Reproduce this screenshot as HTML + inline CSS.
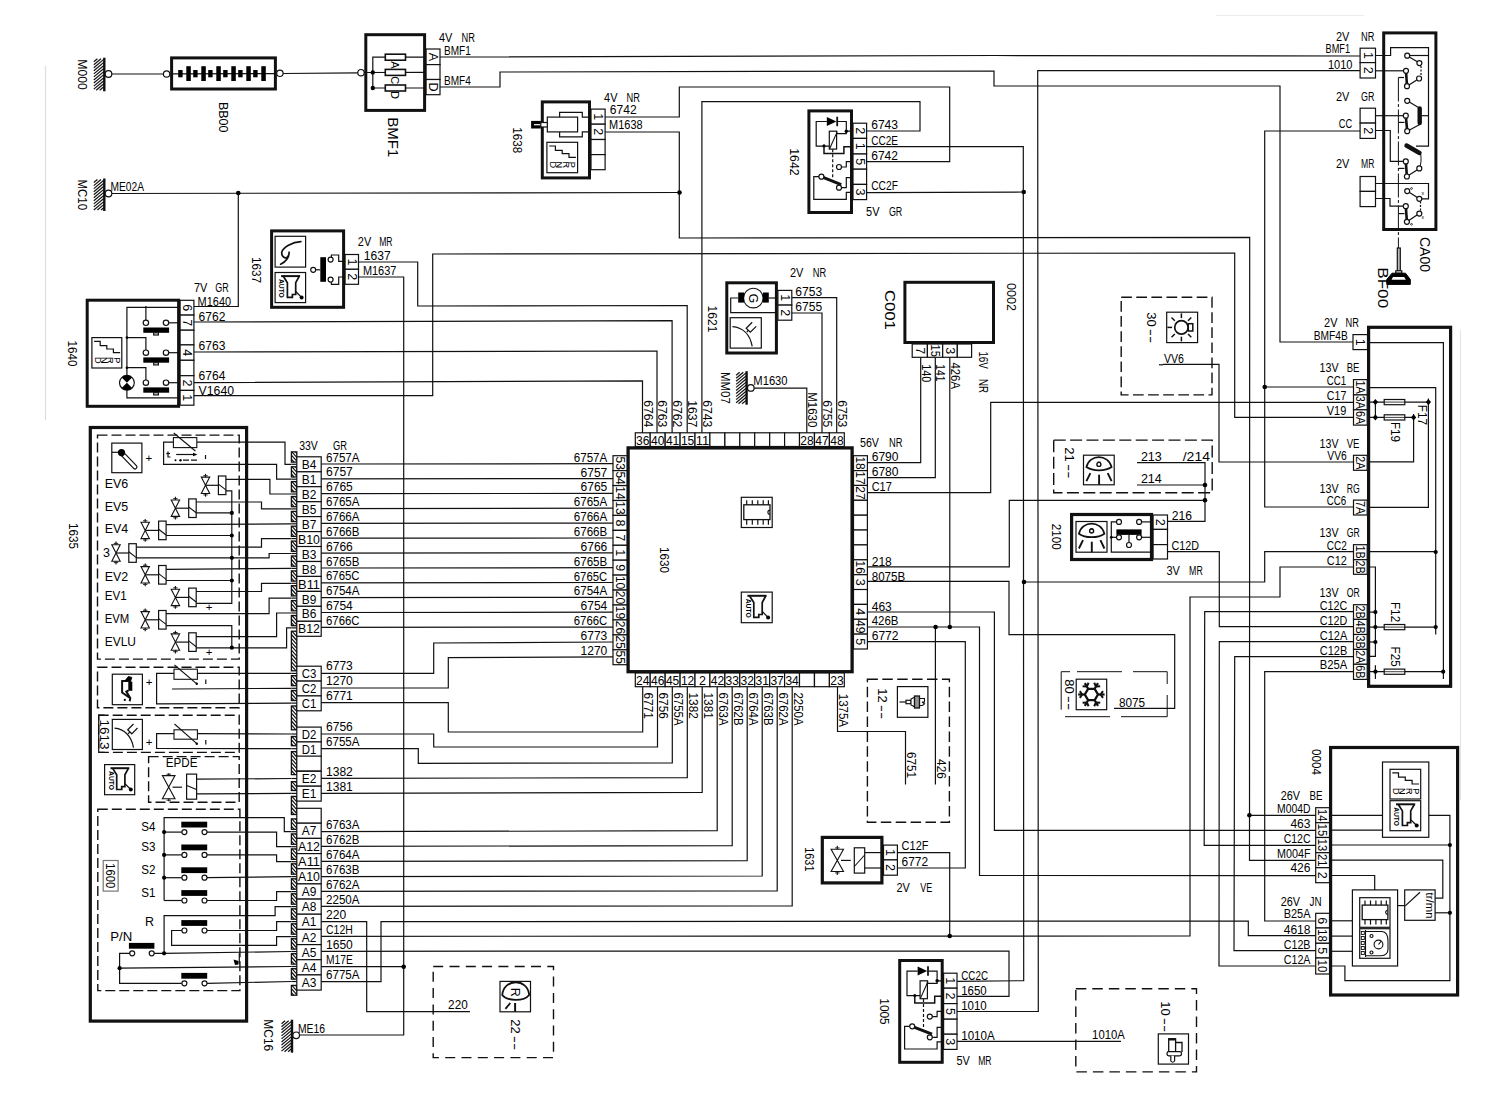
<!DOCTYPE html>
<html><head><meta charset="utf-8"><title>Wiring diagram</title>
<style>
html,body{margin:0;padding:0;background:#fff}
body{width:1494px;height:1110px;overflow:hidden}
svg{display:block}
svg text{font-family:"Liberation Sans",sans-serif;font-size:12.5px;fill:#000;stroke:none}
</style></head><body>
<svg width="1494" height="1110" viewBox="0 0 1494 1110" fill="none" stroke="#111" stroke-linecap="butt" stroke-linejoin="miter">
<path d="M45.5 66 L45.5 420" stroke-width="1.2" stroke="#ddd"/>
<path d="M1460.5 330 L1460.5 800" stroke-width="1.2" stroke="#e4e4e4"/>
<path d="M1216 15.5 L1364 15.5" stroke-width="1.2" stroke="#ececec"/>
<path d="M112 74 L164 74" stroke-width="1.2"/>
<path d="M283 73.5 L358 72.8" stroke-width="1.2"/>
<path d="M439 57 L996 55.5 L1360 56" stroke-width="1.2"/>
<path d="M439 87 L500 87 L500 72 L994 71 L994 86 L1280 86 L1280 342 L1353 342" stroke-width="1.2"/>
<path d="M1360 70.7 L1037.7 70.7 L1038.3 1011.5 L957 1011.5" stroke-width="1.2"/>
<path d="M605 117 L679.3 117 L679.3 87 L949.7 87 L949.7 161.7 L867 161.7" stroke-width="1.2"/>
<path d="M605 132 L679.3 132 L679.3 238 L1249.7 237.3 L1249.5 860.3 L1315.7 860.3" stroke-width="1.2"/>
<path d="M1249.3 815.3 L1315.7 815.3" stroke-width="1.2"/>
<path d="M112 193.5 L679.7 192.5" stroke-width="1.2"/>
<path d="M238.3 193 L238.3 306.5 L194 306.5" stroke-width="1.2"/>
<path d="M867 131 L920 131 L920 101.7 L701.9 101.7 L701.9 434" stroke-width="1.2"/>
<path d="M867 146.7 L1023.3 146.7 L1023.7 980.7 L957 981.3" stroke-width="1.2"/>
<path d="M867 192.7 L1023.7 192" stroke-width="1.2"/>
<path d="M1360 131 L1264.7 131 L1264.7 507 L1353 507" stroke-width="1.2"/>
<path d="M1264.7 387 L1353 387" stroke-width="1.2"/>
<path d="M194 395.7 L432.7 395.7 L432.7 254 L1234.7 253 L1234.7 417.3 L1353 417.3" stroke-width="1.2"/>
<path d="M359 262 L417.7 262 L417.7 306 L687.2 305.5 L687.2 434" stroke-width="1.2"/>
<path d="M359 277 L403.7 277 L403.7 1035 L299 1035" stroke-width="1.2"/>
<path d="M194 322 L672.1 320.6 L672.1 434" stroke-width="1.2"/>
<path d="M194 352 L657 351 L657 434" stroke-width="1.2"/>
<path d="M194 382.7 L642.5 380.8 L642.5 434" stroke-width="1.2"/>
<path d="M753.8 388.2 L806.8 388.2 L806.8 434" stroke-width="1.2"/>
<path d="M791.5 313 L822 313 L822 434" stroke-width="1.2"/>
<path d="M791.5 297.7 L836.7 297.7 L836.7 434" stroke-width="1.2"/>
<path d="M920.7 357 L920.7 462.7 L867 462.7" stroke-width="1.2"/>
<path d="M935.3 357 L935.3 477.7 L867 477.7" stroke-width="1.2"/>
<path d="M949.8 357 L949.8 627" stroke-width="1.2"/>
<path d="M867 492.7 L990.7 492.7 L990.7 402.3 L1353 402.3" stroke-width="1.2"/>
<path d="M867 566.8 L1009.3 566.8 L1009.3 500.3 L1205 500.3" stroke-width="1.2"/>
<path d="M867 581.4 L1009 581.4 L1009 634.7 L1174.7 634.7 L1174.7 708.3 L1114 708.3" stroke-width="1.2"/>
<path d="M1353 551.7 L1264.7 551.7 L1264.7 582 L1024 582" stroke-width="1.2"/>
<path d="M867 612 L994.4 612 L994.4 830.3 L1315.7 830.3" stroke-width="1.2"/>
<path d="M867 627 L979.5 627 L979.5 875.5 L1315.7 875.7" stroke-width="1.2"/>
<path d="M935.4 627 L935.4 784.4" stroke-width="1.2"/>
<path d="M867 641.7 L965.3 641.7 L965.3 868 L897 868" stroke-width="1.2"/>
<path d="M321 464 L613 463.7" stroke-width="1.2"/>
<path d="M321 478.9 L613 478.6" stroke-width="1.2"/>
<path d="M321 493.7 L613 493.4" stroke-width="1.2"/>
<path d="M321 508.6 L613 508.2" stroke-width="1.2"/>
<path d="M321 523.4 L613 523.1" stroke-width="1.2"/>
<path d="M321 538.2 L613 538" stroke-width="1.2"/>
<path d="M321 553.1 L613 552.8" stroke-width="1.2"/>
<path d="M321 568 L613 567.7" stroke-width="1.2"/>
<path d="M321 582.8 L613 582.5" stroke-width="1.2"/>
<path d="M321 597.6 L613 597.4" stroke-width="1.2"/>
<path d="M321 612.5 L613 612.2" stroke-width="1.2"/>
<path d="M321 627.4 L613 627.1" stroke-width="1.2"/>
<path d="M321 673.3 L433.7 673.3 L433.7 643 L613 642" stroke-width="1.2"/>
<path d="M321 688 L448.3 688 L448.3 657.7 L613 656.8" stroke-width="1.2"/>
<path d="M321 702.7 L448.3 702.7 L448.3 732 L642.7 732 L642.7 687" stroke-width="1.2"/>
<path d="M321 734 L433.7 734 L433.7 747 L657.5 747 L657.5 687" stroke-width="1.2"/>
<path d="M321 748.7 L418.3 748.7 L418.3 763.3 L672.3 763 L672.3 687" stroke-width="1.2"/>
<path d="M321 778.3 L687.3 777.7 L687.3 687" stroke-width="1.2"/>
<path d="M321 793.3 L702.2 792.3 L702.2 687" stroke-width="1.2"/>
<path d="M321 831.7 L717.2 830.7 L717.2 687" stroke-width="1.2"/>
<path d="M321 846.3 L732.2 845.7 L732.2 687" stroke-width="1.2"/>
<path d="M321 861.3 L747.2 860.7 L747.2 687" stroke-width="1.2"/>
<path d="M321 876.7 L762.2 876 L762.2 687" stroke-width="1.2"/>
<path d="M321 891.3 L777.2 891 L777.2 687" stroke-width="1.2"/>
<path d="M321 906.3 L792.2 906 L792.2 687" stroke-width="1.2"/>
<path d="M321 921.7 L366.7 921.7 L366.7 1011.7 L470 1011.7" stroke-width="1.2"/>
<path d="M321 936.3 L1190 936 L1190 597 L1280 597 L1280 567 L1353 567" stroke-width="1.2"/>
<path d="M321 951.3 L1009 951 L1009 996.3 L957 996.3" stroke-width="1.2"/>
<path d="M321 966.7 L403.7 966.7" stroke-width="1.2"/>
<path d="M321 981.7 L381 981.7 L381 921.7 L1248.3 921 L1248.3 935.7 L1315.7 935.7" stroke-width="1.2"/>
<path d="M837.5 687 L837.5 731.5 L905.5 731.5 L905.5 784.4" stroke-width="1.2"/>
<path d="M897 852.7 L949.7 852.7 L949.7 936" stroke-width="1.2"/>
<path d="M1353 611.7 L1204.7 611.7 L1204.2 845.3 L1315.7 845.3" stroke-width="1.2"/>
<path d="M1353 626.7 L1219.3 626.7 L1219.3 551.7 L1167 551.7" stroke-width="1.2"/>
<path d="M1353 641.7 L1219.3 641.7 L1219 966 L1315.7 966" stroke-width="1.2"/>
<path d="M1353 656.7 L1234.7 656.7 L1234 950.7 L1315.7 950.7" stroke-width="1.2"/>
<path d="M1353 671.7 L1264.7 671.7 L1264.7 921 L1315.7 921" stroke-width="1.2"/>
<path d="M1163 364.3 L1219 364.3 L1219 462 L1353 462" stroke-width="1.2"/>
<path d="M1137 462.7 L1205 462.7 L1205 521.3 L1167 521.3" stroke-width="1.2"/>
<path d="M1137 485 L1205 485" stroke-width="1.2"/>
<path d="M957 1041.3 L1121 1041.3" stroke-width="1.2"/>
<circle cx="238.3" cy="193" r="2.3" fill="#000" stroke="none"/>
<circle cx="679.5" cy="192.5" r="2.3" fill="#000" stroke="none"/>
<circle cx="1023.7" cy="192" r="2.3" fill="#000" stroke="none"/>
<circle cx="1264.7" cy="387" r="2.3" fill="#000" stroke="none"/>
<circle cx="935.6" cy="627" r="2.3" fill="#000" stroke="none"/>
<circle cx="949.8" cy="627" r="2.3" fill="#000" stroke="none"/>
<circle cx="1024" cy="582" r="2.3" fill="#000" stroke="none"/>
<circle cx="1205" cy="485" r="2.3" fill="#000" stroke="none"/>
<circle cx="1205" cy="500.3" r="2.3" fill="#000" stroke="none"/>
<circle cx="403.7" cy="966.7" r="2.3" fill="#000" stroke="none"/>
<circle cx="949.7" cy="936" r="2.3" fill="#000" stroke="none"/>
<circle cx="1249.4" cy="815.3" r="2.3" fill="#000" stroke="none"/>
<path d="M104.3 57.7 L104.3 91.3" stroke-width="2.4"/>
<path d="M93.8 61.7 L97.4 58.7" stroke-width="1.2"/>
<path d="M93.8 64.8 L101 58.7" stroke-width="1.2"/>
<path d="M93.8 67.8 L103.8 59.4" stroke-width="1.2"/>
<path d="M93.8 70.8 L103.8 62.4" stroke-width="1.2"/>
<path d="M93.8 73.9 L103.8 65.5" stroke-width="1.2"/>
<path d="M93.8 76.9 L103.8 68.5" stroke-width="1.2"/>
<path d="M93.8 80 L103.8 71.6" stroke-width="1.2"/>
<path d="M93.8 83 L103.8 74.6" stroke-width="1.2"/>
<path d="M93.8 86.1 L103.8 77.7" stroke-width="1.2"/>
<path d="M93.8 89.1 L103.8 80.7" stroke-width="1.2"/>
<path d="M96.1 90.3 L103.8 83.8" stroke-width="1.2"/>
<path d="M99.7 90.3 L103.8 86.8" stroke-width="1.2"/>
<circle cx="108.5" cy="74" r="3.3" fill="#fff" stroke-width="1.2"/>
<text transform="translate(77.6 59.2) rotate(90)" style="font-size:13.5px" textLength="30.6" lengthAdjust="spacingAndGlyphs">M000</text>
<circle cx="166.6" cy="74" r="3.2" fill="#fff" stroke-width="1.2"/>
<rect x="171.6" y="57.9" width="103.8" height="31.1" stroke-width="3" fill="#fff"/>
<path d="M173 73.8 L274 73.6" stroke-width="1.2"/>
<rect x="178.2" y="70" width="4.4" height="7.3" stroke-width="0" fill="#000"/>
<rect x="186.3" y="66.2" width="4.5" height="14.8" stroke-width="0" fill="#000"/>
<rect x="193.2" y="70" width="4.4" height="7.3" stroke-width="0" fill="#000"/>
<rect x="201.3" y="66.2" width="4.5" height="14.8" stroke-width="0" fill="#000"/>
<rect x="208.2" y="70" width="4.4" height="7.3" stroke-width="0" fill="#000"/>
<rect x="216.3" y="66.2" width="4.5" height="14.8" stroke-width="0" fill="#000"/>
<rect x="223.2" y="70" width="4.4" height="7.3" stroke-width="0" fill="#000"/>
<rect x="231.3" y="66.2" width="4.5" height="14.8" stroke-width="0" fill="#000"/>
<rect x="238.2" y="70" width="4.4" height="7.3" stroke-width="0" fill="#000"/>
<rect x="246.3" y="66.2" width="4.5" height="14.8" stroke-width="0" fill="#000"/>
<rect x="253.2" y="70" width="4.4" height="7.3" stroke-width="0" fill="#000"/>
<rect x="261.3" y="66.2" width="4.5" height="14.8" stroke-width="0" fill="#000"/>
<circle cx="279.9" cy="73.3" r="3.2" fill="#fff" stroke-width="1.2"/>
<text transform="translate(218.6 101.9) rotate(90)" style="font-size:13.5px" textLength="30.6" lengthAdjust="spacingAndGlyphs">BB00</text>
<rect x="365.8" y="34.7" width="58.8" height="75.7" stroke-width="3" fill="#fff"/>
<circle cx="361" cy="72.7" r="3.2" fill="#fff" stroke-width="1.2"/>
<path d="M426 57.2 L372.8 57.2 L372.8 88 L426 88" stroke-width="1.2"/>
<path d="M364.3 72.5 L426 72.4" stroke-width="1.2"/>
<rect x="385.3" y="54.2" width="20.2" height="6" stroke-width="1.6" fill="#fff"/>
<rect x="385.3" y="69.4" width="20.2" height="6" stroke-width="1.6" fill="#fff"/>
<rect x="385.3" y="85" width="20.2" height="6" stroke-width="1.6" fill="#fff"/>
<circle cx="372.8" cy="72.4" r="2.2" fill="#000" stroke="none"/>
<circle cx="372.8" cy="88" r="2.2" fill="#000" stroke="none"/>
<text transform="translate(390.5 64.8) rotate(90)" text-anchor="middle" style="font-size:11px">A</text>
<text transform="translate(390.5 80.3) rotate(90)" text-anchor="middle" style="font-size:11px">C</text>
<text transform="translate(390.5 95) rotate(90)" text-anchor="middle" style="font-size:11px">D</text>
<rect x="426.1" y="49" width="13.9" height="15.6" stroke-width="1.2" fill="#fff"/>
<rect x="426.1" y="64.6" width="13.9" height="14.9" stroke-width="1.2" fill="#fff"/>
<rect x="426.1" y="79.5" width="13.9" height="15.2" stroke-width="1.2" fill="#fff"/>
<text transform="translate(428.8 56.8) rotate(90)" text-anchor="middle">A</text>
<text transform="translate(428.8 87.1) rotate(90)" text-anchor="middle">D</text>
<text transform="translate(439 42)" textLength="13.4" lengthAdjust="spacingAndGlyphs">4V</text>
<text transform="translate(461.6 42)" textLength="13.4" lengthAdjust="spacingAndGlyphs">NR</text>
<text transform="translate(444 54.9)" textLength="26.8" lengthAdjust="spacingAndGlyphs">BMF1</text>
<text transform="translate(444 84.6)" textLength="26.8" lengthAdjust="spacingAndGlyphs">BMF4</text>
<text transform="translate(388 117.3) rotate(90)" style="font-size:14px" textLength="40" lengthAdjust="spacingAndGlyphs">BMF1</text>
<path d="M104.3 178.5 L104.3 211" stroke-width="2.4"/>
<path d="M93.8 182.5 L97.4 179.5" stroke-width="1.2"/>
<path d="M93.8 185.6 L101 179.5" stroke-width="1.2"/>
<path d="M93.8 188.6 L103.8 180.2" stroke-width="1.2"/>
<path d="M93.8 191.7 L103.8 183.3" stroke-width="1.2"/>
<path d="M93.8 194.7 L103.8 186.3" stroke-width="1.2"/>
<path d="M93.8 197.8 L103.8 189.4" stroke-width="1.2"/>
<path d="M93.8 200.8 L103.8 192.4" stroke-width="1.2"/>
<path d="M93.8 203.9 L103.8 195.5" stroke-width="1.2"/>
<path d="M93.8 206.9 L103.8 198.5" stroke-width="1.2"/>
<path d="M93.8 210 L103.8 201.6" stroke-width="1.2"/>
<path d="M97.4 210 L103.8 204.6" stroke-width="1.2"/>
<path d="M101 210 L103.8 207.7" stroke-width="1.2"/>
<circle cx="108.5" cy="193.5" r="3.3" fill="#fff" stroke-width="1.2"/>
<text transform="translate(77.6 179.5) rotate(90)" style="font-size:13.5px" textLength="30.6" lengthAdjust="spacingAndGlyphs">MC10</text>
<text transform="translate(110.5 190.5)" textLength="33.5" lengthAdjust="spacingAndGlyphs">ME02A</text>
<rect x="271.6" y="230.9" width="72" height="76.4" stroke-width="3" fill="#fff"/>
<rect x="275.1" y="236.3" width="30.5" height="30.8" stroke-width="1.2" fill="none"/>
<path d="M300.9 241.7 C292 242 283 247.5 281.7 252.4 C281.5 256 284 258.2 286.5 257.9 C288.8 256 289.3 253.5 289 251.6 C289.6 257 286 262 280.6 264.2" stroke-width="1.7" stroke-linecap="round"/>
<rect x="320.3" y="257.2" width="5.7" height="24.6" stroke-width="0" fill="#000"/>
<path d="M315.7 269.8 L320.3 269.8" stroke-width="1.2"/>
<circle cx="313.2" cy="269.8" r="2.5" fill="#fff" stroke-width="1.2"/>
<path d="M331.4 257 L331.4 255 L338.7 255 L338.7 261.3 L345 261.3" stroke-width="1.2"/>
<path d="M331.4 282.2 L331.4 284.3 L338.7 284.3 L338.7 277 L345 277" stroke-width="1.2"/>
<circle cx="330.6" cy="259.6" r="2.5" fill="#fff" stroke-width="1.2"/>
<circle cx="330.6" cy="279.6" r="2.5" fill="#fff" stroke-width="1.2"/>
<rect x="345.1" y="254.5" width="13.4" height="14.8" stroke-width="1.2" fill="#fff"/>
<rect x="345.1" y="269.3" width="13.4" height="15" stroke-width="1.2" fill="#fff"/>
<text transform="translate(347.5 261.9) rotate(90)" text-anchor="middle">1</text>
<text transform="translate(347.5 276.8) rotate(90)" text-anchor="middle">2</text>
<text transform="translate(357.8 246.1)" textLength="13.4" lengthAdjust="spacingAndGlyphs">2V</text>
<text transform="translate(379.2 246.1)" textLength="13.4" lengthAdjust="spacingAndGlyphs">MR</text>
<text transform="translate(363.8 259.9)" textLength="26.8" lengthAdjust="spacingAndGlyphs">1637</text>
<text transform="translate(362.9 275.2)" textLength="33.5" lengthAdjust="spacingAndGlyphs">M1637</text>
<text transform="translate(252.2 257) rotate(90)" style="font-size:13.5px" textLength="26" lengthAdjust="spacingAndGlyphs">1637</text>
<rect x="87.2" y="300.2" width="91.4" height="106.1" stroke-width="3" fill="#fff"/>
<rect x="180.1" y="300.3" width="13.8" height="14.8" stroke-width="1.2" fill="#fff"/>
<rect x="180.1" y="315.1" width="13.8" height="15.1" stroke-width="1.2" fill="#fff"/>
<rect x="180.1" y="330.2" width="13.8" height="14.7" stroke-width="1.2" fill="#fff"/>
<rect x="180.1" y="344.9" width="13.8" height="15.4" stroke-width="1.2" fill="#fff"/>
<rect x="180.1" y="360.3" width="13.8" height="15.4" stroke-width="1.2" fill="#fff"/>
<rect x="180.1" y="375.7" width="13.8" height="14.7" stroke-width="1.2" fill="#fff"/>
<rect x="180.1" y="390.4" width="13.8" height="14.8" stroke-width="1.2" fill="#fff"/>
<text transform="translate(182.7 307.7) rotate(90)" text-anchor="middle">6</text>
<text transform="translate(182.7 322.6) rotate(90)" text-anchor="middle">7</text>
<text transform="translate(182.7 352.6) rotate(90)" text-anchor="middle">4</text>
<text transform="translate(182.7 383) rotate(90)" text-anchor="middle">2</text>
<text transform="translate(182.7 397.8) rotate(90)" text-anchor="middle">1</text>
<text transform="translate(193.9 292.3)" textLength="13.4" lengthAdjust="spacingAndGlyphs">7V</text>
<text transform="translate(215.3 292.3)" textLength="13.4" lengthAdjust="spacingAndGlyphs">GR</text>
<text transform="translate(197.6 305.7)" textLength="33.5" lengthAdjust="spacingAndGlyphs">M1640</text>
<text transform="translate(198.6 320.6)" textLength="26.8" lengthAdjust="spacingAndGlyphs">6762</text>
<text transform="translate(198.6 350.3)" textLength="26.8" lengthAdjust="spacingAndGlyphs">6763</text>
<text transform="translate(198.6 380.1)" textLength="26.8" lengthAdjust="spacingAndGlyphs">6764</text>
<text transform="translate(198.6 395.4)" textLength="35.5" lengthAdjust="spacingAndGlyphs">V1640</text>
<path d="M180 307.4 L126.9 307.4 L126.9 397.8 L180 397.8" stroke-width="1.2"/>
<path d="M168.7 322.8 L180 322.8" stroke-width="1.2"/>
<path d="M145.9 306 L145.9 320.2" stroke-width="1.2"/>
<circle cx="145.9" cy="322.8" r="2.7" fill="#fff" stroke-width="1.2"/>
<circle cx="166" cy="322.8" r="2.7" fill="#fff" stroke-width="1.2"/>
<rect x="143.3" y="327.5" width="25.8" height="5.3" stroke-width="0" fill="#000"/>
<rect x="153.7" y="332.8" width="4.7" height="2.2" stroke-width="1.2" fill="#fff"/>
<path d="M168.7 352.7 L180 352.7" stroke-width="1.2"/>
<path d="M126.9 337.6 L145.9 337.6 L145.9 350.1" stroke-width="1.2"/>
<circle cx="126.9" cy="337.6" r="1.3" fill="#000" stroke="none"/>
<circle cx="145.9" cy="352.7" r="2.7" fill="#fff" stroke-width="1.2"/>
<circle cx="166" cy="352.7" r="2.7" fill="#fff" stroke-width="1.2"/>
<rect x="143.3" y="357.4" width="25.8" height="5.3" stroke-width="0" fill="#000"/>
<rect x="153.7" y="362.7" width="4.7" height="2.2" stroke-width="1.2" fill="#fff"/>
<path d="M168.7 382.7 L180 382.7" stroke-width="1.2"/>
<path d="M126.9 367.7 L145.9 367.7 L145.9 380.1" stroke-width="1.2"/>
<circle cx="126.9" cy="367.7" r="1.3" fill="#000" stroke="none"/>
<circle cx="145.9" cy="382.7" r="2.7" fill="#fff" stroke-width="1.2"/>
<circle cx="166" cy="382.7" r="2.7" fill="#fff" stroke-width="1.2"/>
<rect x="143.3" y="387.4" width="25.8" height="5.3" stroke-width="0" fill="#000"/>
<rect x="153.7" y="392.7" width="4.7" height="2.2" stroke-width="1.2" fill="#fff"/>
<circle cx="126.9" cy="382.8" r="7.4" fill="#fff" stroke-width="1.2"/>
<path d="M126.9 382.8 L121.7 377.6 A7.4 7.4 0 0 1 132.1 377.6 Z M126.9 382.8 L121.7 388 A7.4 7.4 0 0 0 132.1 388 Z" fill="#000" stroke="none"/>
<rect x="91.9" y="337.6" width="29.9" height="30.4" stroke-width="1.2" fill="none"/>
<path d="M94.1 341.3 L100.2 341.3 L100.2 345.6 L106.8 345.6 L106.8 349 L113.4 349 L113.4 352.6 L120.1 352.6" stroke-width="1.2"/>
<text transform="translate(113.8 360.2) rotate(90)" text-anchor="middle" style="font-size:9.2px">P</text>
<text transform="translate(107.4 360.2) rotate(90)" text-anchor="middle" style="font-size:9.2px">R</text>
<text transform="translate(101.1 360.2) rotate(90)" text-anchor="middle" style="font-size:9.2px">N</text>
<text transform="translate(94.7 360.2) rotate(90)" text-anchor="middle" style="font-size:9.2px">D</text>
<text transform="translate(68.2 340.4) rotate(90)" style="font-size:13.5px" textLength="26" lengthAdjust="spacingAndGlyphs">1640</text>
<rect x="542.3" y="101.9" width="47.2" height="76" stroke-width="3" fill="#fff"/>
<rect x="591" y="109.1" width="14.1" height="15.1" stroke-width="1.2" fill="#fff"/>
<rect x="591" y="124.2" width="14.1" height="15.3" stroke-width="1.2" fill="#fff"/>
<rect x="591" y="139.5" width="14.1" height="15.1" stroke-width="1.2" fill="#fff"/>
<rect x="591" y="154.6" width="14.1" height="15.1" stroke-width="1.2" fill="#fff"/>
<text transform="translate(593.8 116.7) rotate(90)" text-anchor="middle">1</text>
<text transform="translate(593.8 131.8) rotate(90)" text-anchor="middle">2</text>
<text transform="translate(604.1 101.7)" textLength="13.4" lengthAdjust="spacingAndGlyphs">4V</text>
<text transform="translate(626.5 101.7)" textLength="13.4" lengthAdjust="spacingAndGlyphs">NR</text>
<text transform="translate(609.8 114.2)" textLength="26.8" lengthAdjust="spacingAndGlyphs">6742</text>
<text transform="translate(609.1 129.2)" textLength="33.5" lengthAdjust="spacingAndGlyphs">M1638</text>
<rect x="547.3" y="117.1" width="30.3" height="14.8" stroke-width="1.2" fill="#fff"/>
<path d="M559.6 117.1 L559.6 112.4 L582.3 112.4 L582.3 117.1 L591 117.1" stroke-width="1.2"/>
<path d="M559.6 131.9 L559.6 136.9 L582.3 136.9 L582.3 131.9 L591 131.9" stroke-width="1.2"/>
<rect x="531.1" y="120.9" width="9.7" height="7.6" stroke-width="0" fill="#000"/>
<path d="M534 124.7 L541 124.7" stroke-width="1.2" stroke="#fff"/>
<rect x="540.8" y="122.5" width="6.5" height="4.5" stroke-width="1.2" fill="#fff"/>
<rect x="546.9" y="142.3" width="30.7" height="30.4" stroke-width="1.2" fill="none"/>
<path d="M549.2 146 L555.4 146 L555.4 150.3 L562.2 150.3 L562.2 153.7 L569 153.7 L569 157.3 L575.9 157.3" stroke-width="1.2"/>
<text transform="translate(569.4 164.9) rotate(90)" text-anchor="middle" style="font-size:9.2px">P</text>
<text transform="translate(562.9 164.9) rotate(90)" text-anchor="middle" style="font-size:9.2px">R</text>
<text transform="translate(556.3 164.9) rotate(90)" text-anchor="middle" style="font-size:9.2px">N</text>
<text transform="translate(549.8 164.9) rotate(90)" text-anchor="middle" style="font-size:9.2px">D</text>
<text transform="translate(512.8 127.3) rotate(90)" style="font-size:13.5px" textLength="26" lengthAdjust="spacingAndGlyphs">1638</text>
<rect x="808.9" y="110.9" width="42.6" height="101.6" stroke-width="3" fill="#fff"/>
<path d="M826.8 116.9 L836.4 121.5 L826.8 126 Z" fill="#000" stroke="none"/>
<path d="M837.2 116.7 L837.2 126.2" stroke-width="1.8"/>
<path d="M826.8 121.5 L816.2 121.5 L816.2 146.1 L829.3 146.1" stroke-width="1.2"/>
<path d="M838 121.5 L846.3 121.5 L846.3 131.2" stroke-width="1.2"/>
<path d="M852 131.2 L846.3 131.2 L846.3 133.7 L836.6 133.7" stroke-width="1.2"/>
<circle cx="846.3" cy="131.2" r="1.7" fill="#000" stroke="none"/>
<rect x="829.3" y="131.2" width="7.3" height="17.9" stroke-width="1.2" fill="#fff"/>
<path d="M829.5 149 L837.3 131.6" stroke-width="1.1"/>
<circle cx="824" cy="145.9" r="1.6" fill="#000" stroke="none"/>
<path d="M824 146 L824 153.4 L843.9 153.4 L843.9 146.7 L852 146.7" stroke-width="1.5"/>
<path d="M832.7 149.3 L832.7 178.5" stroke-width="1.2" stroke-dasharray="3 2"/>
<path d="M841.5 167 L846.3 167 L846.3 161.7 L852 161.7" stroke-width="1.2"/>
<circle cx="839" cy="167" r="2.5" fill="#fff" stroke-width="1.2"/>
<path d="M819 176.7 L813.8 176.7 L813.8 199.4 L846.3 199.4 L846.3 192.3 L852 192.3" stroke-width="1.2"/>
<path d="M841.5 187.7 L846.3 187.7 L846.3 177.7 L852 177.7" stroke-width="1.2"/>
<path d="M822.5 177.2 L841.2 184.6" stroke-width="3"/>
<circle cx="821.4" cy="176.7" r="2.5" fill="#fff" stroke-width="1.2"/>
<circle cx="839" cy="187.7" r="2.5" fill="#fff" stroke-width="1.2"/>
<rect x="853" y="123.2" width="13.6" height="15.2" stroke-width="1.2" fill="#fff"/>
<rect x="853" y="138.4" width="13.6" height="15.6" stroke-width="1.2" fill="#fff"/>
<rect x="853" y="154" width="13.6" height="15.2" stroke-width="1.2" fill="#fff"/>
<rect x="853" y="169.2" width="13.6" height="15.2" stroke-width="1.2" fill="#fff"/>
<rect x="853" y="184.4" width="13.6" height="15.2" stroke-width="1.2" fill="#fff"/>
<text transform="translate(855.5 130.8) rotate(90)" text-anchor="middle">2</text>
<text transform="translate(855.5 146.2) rotate(90)" text-anchor="middle">1</text>
<text transform="translate(855.5 161.6) rotate(90)" text-anchor="middle">5</text>
<text transform="translate(855.5 192) rotate(90)" text-anchor="middle">3</text>
<text transform="translate(871.2 129.3)" textLength="26.8" lengthAdjust="spacingAndGlyphs">6743</text>
<text transform="translate(871.2 144.6)" textLength="26.8" lengthAdjust="spacingAndGlyphs">CC2E</text>
<text transform="translate(871.2 159.5)" textLength="26.8" lengthAdjust="spacingAndGlyphs">6742</text>
<text transform="translate(871.2 190.1)" textLength="26.8" lengthAdjust="spacingAndGlyphs">CC2F</text>
<text transform="translate(866.1 216.4)" textLength="13.4" lengthAdjust="spacingAndGlyphs">5V</text>
<text transform="translate(888.9 216.4)" textLength="13.4" lengthAdjust="spacingAndGlyphs">GR</text>
<text transform="translate(789.9 148.3) rotate(90)" style="font-size:13.5px" textLength="27.3" lengthAdjust="spacingAndGlyphs">1642</text>
<rect x="275.1" y="272.5" width="30.5" height="30.1" stroke-width="1.2" fill="none"/>
<path d="M281.1 276.1 L300.1 276.1" stroke-width="2"/>
<path d="M283.3 276.3 L287.4 282.7 L287.4 297.4 L292.4 297.4 L292.4 294.5 L295.7 294.5 L295.7 282.7 L299.2 276.3" stroke-width="1.7"/>
<path d="M295.7 291.5 L301.3 297.1" stroke-width="1.3"/>
<circle cx="301.6" cy="297.4" r="2" fill="#000" stroke="none"/>
<text transform="translate(279.4 279) rotate(90)" style="font-size:8px;font-weight:bold" textLength="18.8" lengthAdjust="spacingAndGlyphs">AUTO</text>
<rect x="726.8" y="282.8" width="49.6" height="70.2" stroke-width="3" fill="#fff"/>
<circle cx="753.3" cy="298.1" r="9.8" fill="#fff" stroke-width="1.1"/>
<rect x="738.2" y="292.5" width="5.9" height="10.1" stroke-width="0" fill="#000"/>
<rect x="763" y="292.5" width="5.8" height="10.1" stroke-width="0" fill="#000"/>
<path d="M738.2 298 L730.7 298 L730.7 312.6 L777 312.6" stroke-width="1.2"/>
<path d="M768.8 298 L777 298" stroke-width="1.2"/>
<text transform="translate(749.2 298.3) rotate(90)" text-anchor="middle" style="font-size:12px">G</text>
<rect x="730.2" y="317.7" width="31.1" height="30.4" stroke-width="1.2" fill="none"/>
<path d="M732.4 326.6 C742.4 327.4 750 334.1 752.2 346.3" stroke-width="1.2"/>
<path d="M752.2 322.3 L746.2 328.2 L750.3 332.2 L756.2 326.4" stroke-width="1.2"/>
<path d="M748.2 330.3 L746.8 332.2" stroke-width="1.2"/>
<rect x="777.9" y="290.4" width="13.9" height="14.7" stroke-width="1.2" fill="#fff"/>
<rect x="777.9" y="305.1" width="13.9" height="15.1" stroke-width="1.2" fill="#fff"/>
<text transform="translate(780.5 297.8) rotate(90)" text-anchor="middle">1</text>
<text transform="translate(780.5 312.6) rotate(90)" text-anchor="middle">2</text>
<text transform="translate(790 276.7)" textLength="13.4" lengthAdjust="spacingAndGlyphs">2V</text>
<text transform="translate(812.7 276.7)" textLength="13.4" lengthAdjust="spacingAndGlyphs">NR</text>
<text transform="translate(795.3 296)" textLength="26.8" lengthAdjust="spacingAndGlyphs">6753</text>
<text transform="translate(795.3 311)" textLength="26.8" lengthAdjust="spacingAndGlyphs">6755</text>
<text transform="translate(707.6 305.6) rotate(90)" textLength="26.8" lengthAdjust="spacingAndGlyphs">1621</text>
<path d="M746.6 371.2 L746.6 404.7" stroke-width="2.4"/>
<path d="M736.1 375.2 L739.7 372.2" stroke-width="1.2"/>
<path d="M736.1 378.2 L743.3 372.2" stroke-width="1.2"/>
<path d="M736.1 381.3 L746.1 372.9" stroke-width="1.2"/>
<path d="M736.1 384.4 L746.1 376" stroke-width="1.2"/>
<path d="M736.1 387.4 L746.1 379" stroke-width="1.2"/>
<path d="M736.1 390.5 L746.1 382.1" stroke-width="1.2"/>
<path d="M736.1 393.5 L746.1 385.1" stroke-width="1.2"/>
<path d="M736.1 396.6 L746.1 388.2" stroke-width="1.2"/>
<path d="M736.1 399.6 L746.1 391.2" stroke-width="1.2"/>
<path d="M736.1 402.7 L746.1 394.3" stroke-width="1.2"/>
<path d="M738.5 403.7 L746.1 397.3" stroke-width="1.2"/>
<path d="M742.1 403.7 L746.1 400.4" stroke-width="1.2"/>
<circle cx="750.8" cy="387.9" r="3.3" fill="#fff" stroke-width="1.2"/>
<text transform="translate(720.5 372) rotate(90)" textLength="31.8" lengthAdjust="spacingAndGlyphs">MM07</text>
<text transform="translate(753.3 384.7)" textLength="34.3" lengthAdjust="spacingAndGlyphs">M1630</text>
<text transform="translate(643.7 400.3) rotate(90)" textLength="27" lengthAdjust="spacingAndGlyphs">6764</text>
<text transform="translate(658.2 400.3) rotate(90)" textLength="27" lengthAdjust="spacingAndGlyphs">6763</text>
<text transform="translate(673.3 400.3) rotate(90)" textLength="27" lengthAdjust="spacingAndGlyphs">6762</text>
<text transform="translate(688.4 400.3) rotate(90)" textLength="27" lengthAdjust="spacingAndGlyphs">1637</text>
<text transform="translate(703.1 400.3) rotate(90)" textLength="27" lengthAdjust="spacingAndGlyphs">6743</text>
<text transform="translate(808 392.3) rotate(90)" textLength="35" lengthAdjust="spacingAndGlyphs">M1630</text>
<text transform="translate(823.2 400.3) rotate(90)" textLength="27" lengthAdjust="spacingAndGlyphs">6755</text>
<text transform="translate(838 400.3) rotate(90)" textLength="27" lengthAdjust="spacingAndGlyphs">6753</text>
<rect x="904.9" y="282.3" width="88.6" height="60.2" stroke-width="3" fill="#fff"/>
<rect x="912.2" y="344" width="15.2" height="13.3" stroke-width="1.2" fill="#fff"/>
<rect x="927.4" y="344" width="15.3" height="13.3" stroke-width="1.2" fill="#fff"/>
<rect x="942.7" y="344" width="14.6" height="13.3" stroke-width="1.2" fill="#fff"/>
<rect x="957.3" y="344" width="14.3" height="13.3" stroke-width="1.2" fill="#fff"/>
<text transform="translate(915.7 350.7) rotate(90)" text-anchor="middle">7</text>
<text transform="translate(930.8 350.7) rotate(90)" text-anchor="middle" textLength="12.5" lengthAdjust="spacingAndGlyphs">15</text>
<text transform="translate(945.8 350.7) rotate(90)" text-anchor="middle">3</text>
<text transform="translate(921.8 364.3) rotate(90)" textLength="18" lengthAdjust="spacingAndGlyphs">140</text>
<text transform="translate(936.4 364.3) rotate(90)" textLength="17" lengthAdjust="spacingAndGlyphs">141</text>
<text transform="translate(951.2 362.5) rotate(90)" textLength="26.5" lengthAdjust="spacingAndGlyphs">426A</text>
<text transform="translate(979.2 351.4) rotate(90)" textLength="17.5" lengthAdjust="spacingAndGlyphs">16V</text>
<text transform="translate(979.2 379) rotate(90)" textLength="14" lengthAdjust="spacingAndGlyphs">NR</text>
<text transform="translate(1007.3 283.1) rotate(90)" textLength="28" lengthAdjust="spacingAndGlyphs">0002</text>
<text transform="translate(885 289.9) rotate(90)" style="font-size:14px" textLength="40" lengthAdjust="spacingAndGlyphs">C001</text>
<rect x="1383.7" y="32.9" width="52.2" height="196.6" stroke-width="3" fill="#fff"/>
<rect x="1360.1" y="48.2" width="15.4" height="14.4" stroke-width="1.2" fill="#fff"/>
<rect x="1360.1" y="62.6" width="15.4" height="15.4" stroke-width="1.2" fill="#fff"/>
<text transform="translate(1363.5 55.4) rotate(90)" text-anchor="middle">1</text>
<text transform="translate(1363.5 70.3) rotate(90)" text-anchor="middle">2</text>
<rect x="1360.1" y="108.2" width="15.4" height="14.9" stroke-width="1.2" fill="#fff"/>
<rect x="1360.1" y="123.1" width="15.4" height="15.3" stroke-width="1.2" fill="#fff"/>
<text transform="translate(1363.5 130.8) rotate(90)" text-anchor="middle">2</text>
<rect x="1360.1" y="176.5" width="15.4" height="14.9" stroke-width="1.2" fill="#fff"/>
<rect x="1360.1" y="191.4" width="15.4" height="15.2" stroke-width="1.2" fill="#fff"/>
<text transform="translate(1335.9 40.6)" textLength="13.4" lengthAdjust="spacingAndGlyphs">2V</text>
<text transform="translate(1361.1 40.6)" textLength="13.4" lengthAdjust="spacingAndGlyphs">NR</text>
<text transform="translate(1325.5 53.2)" textLength="24.5" lengthAdjust="spacingAndGlyphs">BMF1</text>
<text transform="translate(1327.9 68.6)" textLength="24.5" lengthAdjust="spacingAndGlyphs">1010</text>
<text transform="translate(1335.9 101)" textLength="13.4" lengthAdjust="spacingAndGlyphs">2V</text>
<text transform="translate(1361.1 101)" textLength="13.4" lengthAdjust="spacingAndGlyphs">GR</text>
<text transform="translate(1338.8 128.2)" textLength="13.4" lengthAdjust="spacingAndGlyphs">CC</text>
<text transform="translate(1335.9 168.4)" textLength="13.4" lengthAdjust="spacingAndGlyphs">2V</text>
<text transform="translate(1361.1 168.4)" textLength="13.4" lengthAdjust="spacingAndGlyphs">MR</text>
<path d="M1375.5 55.5 L1390.6 55.5 L1390.6 47.6 L1428.5 47.6 L1428.5 146.1 L1416 146.1" stroke-width="1.2"/>
<path d="M1409.8 55.5 L1428.5 55.5" stroke-width="1.2"/>
<path d="M1375.5 70.8 L1403.5 70.8" stroke-width="1.2"/>
<path d="M1398.4 77.5 L1398.4 248" stroke-width="1" stroke-dasharray="24 2.5 3 2.5"/>
<path d="M1404 77.5 L1398.4 77.5" stroke-width="1.2"/>
<path d="M1407.2 55.7 L1419.4 63.1" stroke-width="1.2"/>
<path d="M1421 66 L1421 75.5" stroke-width="1.2" stroke-dasharray="2 1.5"/>
<path d="M1419.1 78.5 L1407 86.2" stroke-width="1.2"/>
<path d="M1406 70.8 L1407 86.2" stroke-width="2.6"/>
<circle cx="1407.2" cy="55.7" r="2.5" fill="#fff" stroke-width="1.2"/>
<circle cx="1419.4" cy="63.1" r="2.5" fill="#fff" stroke-width="1.2"/>
<circle cx="1406" cy="70.8" r="2.5" fill="#fff" stroke-width="1.2"/>
<circle cx="1419.1" cy="78.5" r="2.5" fill="#fff" stroke-width="1.2"/>
<circle cx="1407" cy="86.2" r="2.5" fill="#fff" stroke-width="1.2"/>
<path d="M1375.5 115.7 L1403.3 115.7" stroke-width="1.2"/>
<path d="M1421.5 115.7 L1428.5 115.7" stroke-width="1.2"/>
<path d="M1407.2 100.8 L1418.5 107.5" stroke-width="1.2"/>
<path d="M1419.7 108.5 L1419.7 123" stroke-width="4.4" stroke-linecap="round"/>
<path d="M1405.8 115.7 L1407.2 131.2" stroke-width="2.6"/>
<path d="M1407.2 131.2 L1419.3 124.8" stroke-width="1.2"/>
<path d="M1398.4 122.4 L1404.5 122.4" stroke-width="1.2"/>
<circle cx="1407.2" cy="100.8" r="2.5" fill="#fff" stroke-width="1.2"/>
<circle cx="1405.8" cy="115.7" r="2.5" fill="#fff" stroke-width="1.2"/>
<circle cx="1407.2" cy="131.2" r="2.5" fill="#fff" stroke-width="1.2"/>
<path d="M1375.5 130.5 L1390.3 130.5 L1390.3 161.4 L1403.3 161.4" stroke-width="1.2"/>
<path d="M1406.5 145.5 L1419.5 153" stroke-width="4.4" stroke-linecap="round"/>
<path d="M1420.7 154 C1421.5 160 1421 164 1419.3 168.4" stroke-width="1"/>
<path d="M1405.8 161.4 L1406.9 176.5" stroke-width="2.6"/>
<path d="M1406.9 176.5 L1419.3 168.4" stroke-width="1.2"/>
<path d="M1398.4 168.4 L1404.5 168.4" stroke-width="1.2"/>
<circle cx="1405.8" cy="161.4" r="2.5" fill="#fff" stroke-width="1.2"/>
<circle cx="1419.3" cy="168.4" r="2.5" fill="#fff" stroke-width="1.2"/>
<circle cx="1406.9" cy="176.5" r="2.5" fill="#fff" stroke-width="1.2"/>
<path d="M1375.5 183.5 L1428.5 183.5 L1428.5 198.8 L1421.8 198.8" stroke-width="1.2"/>
<path d="M1407.2 191.1 L1419.3 198.8" stroke-width="1.2"/>
<path d="M1375.5 198.5 L1390 198.5 L1390 206.2 L1403.3 206.2" stroke-width="1.2"/>
<path d="M1405.8 206.2 L1406.9 221.8" stroke-width="2.6"/>
<path d="M1406.9 221.8 L1419.3 213.6" stroke-width="1.2"/>
<path d="M1420.5 201.5 L1420.5 211" stroke-width="1.2" stroke-dasharray="2 1.5"/>
<path d="M1398.4 213.6 L1404.5 213.6" stroke-width="1.2"/>
<circle cx="1407.2" cy="191.1" r="2.5" fill="#fff" stroke-width="1.2"/>
<circle cx="1419.3" cy="198.8" r="2.5" fill="#fff" stroke-width="1.2"/>
<circle cx="1405.8" cy="206.2" r="2.5" fill="#fff" stroke-width="1.2"/>
<circle cx="1419.3" cy="213.6" r="2.5" fill="#fff" stroke-width="1.2"/>
<circle cx="1406.9" cy="221.8" r="2.5" fill="#fff" stroke-width="1.2"/>
<circle cx="1411.5" cy="188.5" r="0.9" fill="none" stroke-width="0.8"/>
<circle cx="1411.5" cy="224.3" r="0.9" fill="none" stroke-width="0.8"/>
<text transform="translate(1421.5 195.3)" style="font-size:5px">x</text>
<text transform="translate(1421.5 218.5)" style="font-size:5px">x</text>
<text transform="translate(1420.2 237) rotate(90)" style="font-size:14px" textLength="35" lengthAdjust="spacingAndGlyphs">CA00</text>
<text transform="translate(1378 267.2) rotate(90)" style="font-size:14px" textLength="41" lengthAdjust="spacingAndGlyphs">BF00</text>
<rect x="1397.3" y="248" width="3" height="23" stroke-width="1.2" fill="#bbb"/>
<rect x="1395.8" y="270.8" width="6" height="2.4" stroke-width="1.2" fill="#fff"/>
<path d="M1392 273.2 L1405.5 273.2 L1410.3 279.5 L1410.3 284.4 L1386.8 284.4 L1386.8 279.5 Z" fill="#000" stroke="#000" stroke-width="1"/>
<path d="M1393 277 L1404.2 277 L1405.8 279.7 L1391.5 279.7 Z" fill="#fff" stroke="none"/>
<rect x="1121.2" y="297.3" width="90.8" height="97.6" stroke-width="1.4" fill="none" stroke-dasharray="10.7 4.4"/>
<rect x="1166.7" y="312.2" width="30.9" height="30.4" stroke-width="1.2" fill="none"/>
<circle cx="1181.4" cy="327.4" r="6.7" fill="#fff" stroke-width="1.7"/>
<rect x="1188.3" y="323.7" width="4.5" height="7.3" stroke-width="1.5" fill="#fff"/>
<path d="M1188 334 L1191.3 337.3" stroke-width="1.5"/>
<path d="M1181.4 336.7 L1181.4 341.4" stroke-width="1.5"/>
<path d="M1174.8 334 L1171.5 337.3" stroke-width="1.5"/>
<path d="M1172.1 327.4 L1167.4 327.4" stroke-width="1.5"/>
<path d="M1174.8 320.8 L1171.5 317.5" stroke-width="1.5"/>
<path d="M1181.4 318.1 L1181.4 313.4" stroke-width="1.5"/>
<path d="M1188 320.8 L1191.3 317.5" stroke-width="1.5"/>
<text transform="translate(1146.6 312.2) rotate(90)" textLength="14.4" lengthAdjust="spacingAndGlyphs">30</text>
<text transform="translate(1146.6 328.8) rotate(90)" textLength="14.6" lengthAdjust="spacingAndGlyphs">--</text>
<text transform="translate(1163.9 362.8)" textLength="20" lengthAdjust="spacingAndGlyphs">VV6</text>
<path d="M1159 364.8 L1163 364.8" stroke-width="1.2"/>
<rect x="1368.6" y="327.3" width="82" height="359" stroke-width="3.2" fill="#fff"/>
<text transform="translate(1324.1 327.4)" textLength="13.4" lengthAdjust="spacingAndGlyphs">2V</text>
<text transform="translate(1345.5 327.4)" textLength="13.4" lengthAdjust="spacingAndGlyphs">NR</text>
<text transform="translate(1313.7 339.5)" textLength="34" lengthAdjust="spacingAndGlyphs">BMF4B</text>
<rect x="1353" y="334.6" width="14.5" height="15" stroke-width="1.2" fill="#fff"/>
<text transform="translate(1356 342.1) rotate(90)" text-anchor="middle">1</text>
<path d="M1370 342.6 L1443.4 342.6 L1443.4 679" stroke-width="1.2"/>
<rect x="1353.5" y="379.6" width="13.7" height="15.3" stroke-width="1.2" fill="#fff"/>
<text transform="translate(1355.7 387.2) rotate(90)" text-anchor="middle" textLength="13.2" lengthAdjust="spacingAndGlyphs">1A</text>
<rect x="1353.5" y="394.9" width="13.7" height="14.9" stroke-width="1.2" fill="#fff"/>
<text transform="translate(1355.7 402.4) rotate(90)" text-anchor="middle" textLength="13.2" lengthAdjust="spacingAndGlyphs">3A</text>
<rect x="1353.5" y="409.8" width="13.7" height="15.3" stroke-width="1.2" fill="#fff"/>
<text transform="translate(1355.7 417.5) rotate(90)" text-anchor="middle" textLength="13.2" lengthAdjust="spacingAndGlyphs">6A</text>
<rect x="1353.5" y="455.3" width="13.7" height="15" stroke-width="1.2" fill="#fff"/>
<text transform="translate(1355.7 462.8) rotate(90)" text-anchor="middle" textLength="13.2" lengthAdjust="spacingAndGlyphs">2A</text>
<rect x="1353.5" y="500.1" width="13.7" height="14.9" stroke-width="1.2" fill="#fff"/>
<text transform="translate(1355.7 507.6) rotate(90)" text-anchor="middle" textLength="13.2" lengthAdjust="spacingAndGlyphs">7A</text>
<rect x="1353.5" y="544.7" width="13.7" height="15" stroke-width="1.2" fill="#fff"/>
<text transform="translate(1355.7 552.2) rotate(90)" text-anchor="middle" textLength="13.2" lengthAdjust="spacingAndGlyphs">1B</text>
<rect x="1353.5" y="559.7" width="13.7" height="14.6" stroke-width="1.2" fill="#fff"/>
<text transform="translate(1355.7 567) rotate(90)" text-anchor="middle" textLength="13.2" lengthAdjust="spacingAndGlyphs">2B</text>
<rect x="1353.5" y="604.7" width="13.7" height="14.7" stroke-width="1.2" fill="#fff"/>
<text transform="translate(1355.7 612) rotate(90)" text-anchor="middle" textLength="13.2" lengthAdjust="spacingAndGlyphs">2B</text>
<rect x="1353.5" y="619.4" width="13.7" height="15.1" stroke-width="1.2" fill="#fff"/>
<text transform="translate(1355.7 627) rotate(90)" text-anchor="middle" textLength="13.2" lengthAdjust="spacingAndGlyphs">4B</text>
<rect x="1353.5" y="634.5" width="13.7" height="14.9" stroke-width="1.2" fill="#fff"/>
<text transform="translate(1355.7 642) rotate(90)" text-anchor="middle" textLength="13.2" lengthAdjust="spacingAndGlyphs">3B</text>
<rect x="1353.5" y="649.4" width="13.7" height="14.9" stroke-width="1.2" fill="#fff"/>
<text transform="translate(1355.7 656.8) rotate(90)" text-anchor="middle" textLength="13.2" lengthAdjust="spacingAndGlyphs">2A</text>
<rect x="1353.5" y="664.3" width="13.7" height="15.1" stroke-width="1.2" fill="#fff"/>
<text transform="translate(1355.7 671.8) rotate(90)" text-anchor="middle" textLength="13.2" lengthAdjust="spacingAndGlyphs">6B</text>
<text transform="translate(1319.6 372.3)" textLength="19" lengthAdjust="spacingAndGlyphs">13V</text>
<text transform="translate(1346.7 372.3)" textLength="12.7" lengthAdjust="spacingAndGlyphs">BE</text>
<text transform="translate(1326.8 385.3)" textLength="19.5" lengthAdjust="spacingAndGlyphs">CC1</text>
<text transform="translate(1326.8 400.1)" textLength="19.5" lengthAdjust="spacingAndGlyphs">C17</text>
<text transform="translate(1326.8 415.1)" textLength="19.5" lengthAdjust="spacingAndGlyphs">V19</text>
<text transform="translate(1319.6 448.1)" textLength="19" lengthAdjust="spacingAndGlyphs">13V</text>
<text transform="translate(1346.7 448.1)" textLength="12.7" lengthAdjust="spacingAndGlyphs">VE</text>
<text transform="translate(1327.3 460.3)" textLength="19.5" lengthAdjust="spacingAndGlyphs">VV6</text>
<text transform="translate(1319.6 492.5)" textLength="19" lengthAdjust="spacingAndGlyphs">13V</text>
<text transform="translate(1346.7 492.5)" textLength="13" lengthAdjust="spacingAndGlyphs">RG</text>
<text transform="translate(1326.8 504.7)" textLength="19.5" lengthAdjust="spacingAndGlyphs">CC6</text>
<text transform="translate(1319.6 537)" textLength="19" lengthAdjust="spacingAndGlyphs">13V</text>
<text transform="translate(1346.7 537)" textLength="13" lengthAdjust="spacingAndGlyphs">GR</text>
<text transform="translate(1326.8 549.5)" textLength="20" lengthAdjust="spacingAndGlyphs">CC2</text>
<text transform="translate(1326.8 564.6)" textLength="20" lengthAdjust="spacingAndGlyphs">C12</text>
<text transform="translate(1319.6 596.6)" textLength="19" lengthAdjust="spacingAndGlyphs">13V</text>
<text transform="translate(1346.7 596.6)" textLength="13" lengthAdjust="spacingAndGlyphs">OR</text>
<text transform="translate(1319.8 610)" textLength="27.5" lengthAdjust="spacingAndGlyphs">C12C</text>
<text transform="translate(1319.8 624.6)" textLength="27.5" lengthAdjust="spacingAndGlyphs">C12D</text>
<text transform="translate(1319.8 639.7)" textLength="27.5" lengthAdjust="spacingAndGlyphs">C12A</text>
<text transform="translate(1319.8 654.6)" textLength="27.5" lengthAdjust="spacingAndGlyphs">C12B</text>
<text transform="translate(1319.8 669.2)" textLength="27.5" lengthAdjust="spacingAndGlyphs">B25A</text>
<path d="M1370 387.6 L1435.7 387.6 L1435.7 634.4" stroke-width="1.2"/>
<path d="M1370 402.1 L1428.4 402.1" stroke-width="1.2"/>
<rect x="1384.2" y="399.5" width="20.6" height="5.2" stroke-width="1.2" fill="#fff"/>
<path d="M1384.2 402.1 L1404.8 402.1" stroke-width="0.8"/>
<path d="M1370 417.4 L1413.6 417.4" stroke-width="1.2"/>
<rect x="1384.2" y="414.8" width="20.6" height="5.2" stroke-width="1.2" fill="#fff"/>
<path d="M1384.2 417.4 L1404.8 417.4" stroke-width="0.8"/>
<path d="M1375.4 402.1 L1375.4 417.4" stroke-width="1.2"/>
<path d="M1428.4 398.5 L1428.4 507.3 L1370 507.3" stroke-width="1.2"/>
<path d="M1413.6 414 L1413.6 461.9 L1370 461.9" stroke-width="1.2"/>
<path d="M1372.8 402.1 L1375.4 398.9 L1378 402.1 L1375.4 405.3 Z" fill="#000" stroke="none"/>
<path d="M1372.8 417.4 L1375.4 414.2 L1378 417.4 L1375.4 420.6 Z" fill="#000" stroke="none"/>
<path d="M1425.8 402.1 L1428.4 398.9 L1431 402.1 L1428.4 405.3 Z" fill="#000" stroke="none"/>
<path d="M1411 417.4 L1413.6 414.2 L1416.2 417.4 L1413.6 420.6 Z" fill="#000" stroke="none"/>
<text transform="translate(1418 404.7) rotate(90)" textLength="20.4" lengthAdjust="spacingAndGlyphs">F17</text>
<text transform="translate(1391.2 422) rotate(90)" textLength="20" lengthAdjust="spacingAndGlyphs">F19</text>
<path d="M1370 551.6 L1435.7 551.6" stroke-width="1.2"/>
<circle cx="1435.7" cy="552" r="2.1" fill="#000" stroke="none"/>
<circle cx="1435.7" cy="627.1" r="2.1" fill="#000" stroke="none"/>
<path d="M1370 567 L1375.4 567 L1375.4 656.3 L1370 656.3" stroke-width="1.2"/>
<path d="M1370 612.1 L1375.4 612.1" stroke-width="1.2"/>
<circle cx="1375.4" cy="612.1" r="2.1" fill="#000" stroke="none"/>
<path d="M1370 627.1 L1375.4 627.1" stroke-width="1.2"/>
<circle cx="1375.4" cy="627.1" r="2.1" fill="#000" stroke="none"/>
<path d="M1370 642 L1375.4 642" stroke-width="1.2"/>
<circle cx="1375.4" cy="642" r="2.1" fill="#000" stroke="none"/>
<path d="M1375.4 627.1 L1435.7 627.1" stroke-width="1.2"/>
<rect x="1384.2" y="624.5" width="20.6" height="5.2" stroke-width="1.2" fill="#fff"/>
<path d="M1384.2 627.1 L1404.8 627.1" stroke-width="0.8"/>
<path d="M1370 671.7 L1443.2 671.7" stroke-width="1.2"/>
<rect x="1384.2" y="669.1" width="20.6" height="5.2" stroke-width="1.2" fill="#fff"/>
<path d="M1384.2 671.7 L1404.8 671.7" stroke-width="0.8"/>
<path d="M1375.4 665.2 L1375.4 679" stroke-width="1.2"/>
<circle cx="1375.4" cy="671.7" r="2.1" fill="#000" stroke="none"/>
<circle cx="1443.2" cy="671.7" r="2.1" fill="#000" stroke="none"/>
<text transform="translate(1390.8 601.9) rotate(90)" textLength="20.3" lengthAdjust="spacingAndGlyphs">F12</text>
<text transform="translate(1390.8 646.5) rotate(90)" textLength="20.3" lengthAdjust="spacingAndGlyphs">F25</text>
<rect x="1053.7" y="440.1" width="158.5" height="52.6" stroke-width="1.4" fill="none" stroke-dasharray="12 4.4"/>
<rect x="1083.5" y="455.2" width="30.7" height="29.6" stroke-width="1.2" fill="none"/>
<path d="M1086.4 467 C1089.5 453.9 1108.3 453.9 1111.6 467 C1105.5 471.4 1092.5 471.4 1086.4 467 Z" stroke-width="1.7" fill="#fff"/>
<circle cx="1098.9" cy="464.4" r="2" fill="#fff" stroke-width="1.4"/>
<path d="M1097.5 462.2 L1100.5 462.2" stroke-width="1.2"/>
<path d="M1090.4 473.2 L1086.4 481.2" stroke-width="1.9"/>
<path d="M1099.1 474.7 L1099.1 484.8" stroke-width="1.9"/>
<path d="M1107.7 473.2 L1111.6 481.2" stroke-width="1.9"/>
<text transform="translate(1064.6 447.3) rotate(90)" textLength="14.4" lengthAdjust="spacingAndGlyphs">21</text>
<text transform="translate(1064.6 463.9) rotate(90)" textLength="14.6" lengthAdjust="spacingAndGlyphs">--</text>
<text transform="translate(1140.9 461)" textLength="20.9" lengthAdjust="spacingAndGlyphs">213</text>
<text transform="translate(1182.7 461)" textLength="27.3" lengthAdjust="spacingAndGlyphs">/214</text>
<text transform="translate(1140.9 482.6)" textLength="20.9" lengthAdjust="spacingAndGlyphs">214</text>
<rect x="1071.6" y="514.5" width="79.9" height="45" stroke-width="3.2" fill="#fff"/>
<rect x="1076" y="521.5" width="31" height="30.7" stroke-width="1.2" fill="none"/>
<path d="M1078.9 533.7 C1082.1 520.2 1101 520.2 1104.4 533.7 C1098.2 538.3 1085.1 538.3 1078.9 533.7 Z" stroke-width="1.7" fill="#fff"/>
<circle cx="1091.6" cy="531" r="2" fill="#fff" stroke-width="1.4"/>
<path d="M1090.1 528.8 L1093.2 528.8" stroke-width="1.2"/>
<path d="M1083 540.2 L1078.9 548.5" stroke-width="1.9"/>
<path d="M1091.8 541.7 L1091.8 552.2" stroke-width="1.9"/>
<path d="M1100.4 540.2 L1104.4 548.5" stroke-width="1.9"/>
<path d="M1116.5 521.9 L1111.3 521.9 L1111.3 552.2 L1153 552.2" stroke-width="1.2"/>
<path d="M1141.6 521.9 L1153 521.9" stroke-width="1.2"/>
<path d="M1111.3 537.3 L1116.5 537.3" stroke-width="1.2"/>
<path d="M1141.6 537.3 L1153 537.3" stroke-width="1.2"/>
<circle cx="1111.3" cy="537.3" r="1.4" fill="#000" stroke="none"/>
<rect x="1116.4" y="529.4" width="25.2" height="5.5" stroke-width="0" fill="#000"/>
<path d="M1129 534.9 L1129 542.5" stroke-width="1.2"/>
<circle cx="1119" cy="521.9" r="2.5" fill="#fff" stroke-width="1.2"/>
<circle cx="1139.1" cy="521.9" r="2.5" fill="#fff" stroke-width="1.2"/>
<circle cx="1119" cy="537.3" r="2.5" fill="#fff" stroke-width="1.2"/>
<circle cx="1139.1" cy="537.3" r="2.5" fill="#fff" stroke-width="1.2"/>
<circle cx="1129" cy="545" r="2.5" fill="#fff" stroke-width="1.2"/>
<rect x="1153.1" y="515" width="14.4" height="14.4" stroke-width="1.2" fill="#fff"/>
<rect x="1153.1" y="529.4" width="14.4" height="15.2" stroke-width="1.2" fill="#fff"/>
<rect x="1153.1" y="544.6" width="14.4" height="14.4" stroke-width="1.2" fill="#fff"/>
<text transform="translate(1156 522.2) rotate(90)" text-anchor="middle">2</text>
<text transform="translate(1171.8 520)" textLength="20.2" lengthAdjust="spacingAndGlyphs">216</text>
<text transform="translate(1171.4 550.3)" textLength="27.5" lengthAdjust="spacingAndGlyphs">C12D</text>
<text transform="translate(1166.5 574.8)" textLength="13.4" lengthAdjust="spacingAndGlyphs">3V</text>
<text transform="translate(1189.1 574.8)" textLength="13.7" lengthAdjust="spacingAndGlyphs">MR</text>
<text transform="translate(1052.3 523.7) rotate(90)" textLength="26" lengthAdjust="spacingAndGlyphs">2100</text>
<path d="M1070 671.7 L1061.2 671.7 L1061.2 709.7 M1077 671.7 L1122 671.7 M1133 671.7 L1167.2 671.7 L1167.2 684 M1167.2 695 L1167.2 716.7 L1121 716.7 M1110 716.7 L1065 716.7" stroke-width="1"/>
<rect x="1076.2" y="679.2" width="30.5" height="30.5" stroke-width="1.2" fill="none"/>
<path d="M1098 694.5 L1094.7 700.2 L1088.1 700.2 L1084.8 694.5 L1088.1 688.8 L1094.7 688.8 Z" stroke-width="2.3" fill="#fff"/>
<path d="M1098 694.5 L1104.6 694.5" stroke-width="2.2"/>
<path d="M1100.6 694.5 L1103 691.1" stroke-width="2"/>
<path d="M1100.6 694.5 L1103 697.9" stroke-width="2"/>
<path d="M1094.7 700.2 L1098 705.9" stroke-width="2.2"/>
<path d="M1096 702.5 L1100.2 702.8" stroke-width="2"/>
<path d="M1096 702.5 L1094.2 706.3" stroke-width="2"/>
<path d="M1088.1 700.2 L1084.8 705.9" stroke-width="2.2"/>
<path d="M1086.8 702.5 L1088.6 706.3" stroke-width="2"/>
<path d="M1086.8 702.5 L1082.6 702.8" stroke-width="2"/>
<path d="M1084.8 694.5 L1078.2 694.5" stroke-width="2.2"/>
<path d="M1082.2 694.5 L1079.8 697.9" stroke-width="2"/>
<path d="M1082.2 694.5 L1079.8 691.1" stroke-width="2"/>
<path d="M1088.1 688.8 L1084.8 683.1" stroke-width="2.2"/>
<path d="M1086.8 686.5 L1082.6 686.2" stroke-width="2"/>
<path d="M1086.8 686.5 L1088.6 682.7" stroke-width="2"/>
<path d="M1094.7 688.8 L1098 683.1" stroke-width="2.2"/>
<path d="M1096 686.5 L1094.2 682.7" stroke-width="2"/>
<path d="M1096 686.5 L1100.2 686.2" stroke-width="2"/>
<text transform="translate(1064.9 679.2) rotate(90)" textLength="14.4" lengthAdjust="spacingAndGlyphs">80</text>
<text transform="translate(1064.9 695.8) rotate(90)" textLength="14.6" lengthAdjust="spacingAndGlyphs">--</text>
<text transform="translate(1118.9 707.3)" textLength="26.2" lengthAdjust="spacingAndGlyphs">8075</text>
<rect x="628.1" y="447.9" width="224" height="223.8" stroke-width="3.3" fill="#fff"/>
<rect x="635.3" y="432.8" width="14.9" height="13.7" stroke-width="1.2" fill="#fff"/>
<rect x="650.2" y="432.8" width="14.9" height="13.7" stroke-width="1.2" fill="#fff"/>
<rect x="665.2" y="432.8" width="14.9" height="13.7" stroke-width="1.2" fill="#fff"/>
<rect x="680.1" y="432.8" width="14.9" height="13.7" stroke-width="1.2" fill="#fff"/>
<rect x="695" y="432.8" width="14.9" height="13.7" stroke-width="1.2" fill="#fff"/>
<rect x="709.9" y="432.8" width="14.9" height="13.7" stroke-width="1.2" fill="#fff"/>
<rect x="724.9" y="432.8" width="14.9" height="13.7" stroke-width="1.2" fill="#fff"/>
<rect x="739.8" y="432.8" width="14.9" height="13.7" stroke-width="1.2" fill="#fff"/>
<rect x="754.7" y="432.8" width="14.9" height="13.7" stroke-width="1.2" fill="#fff"/>
<rect x="769.7" y="432.8" width="14.9" height="13.7" stroke-width="1.2" fill="#fff"/>
<rect x="784.6" y="432.8" width="14.9" height="13.7" stroke-width="1.2" fill="#fff"/>
<rect x="799.5" y="432.8" width="14.9" height="13.7" stroke-width="1.2" fill="#fff"/>
<rect x="814.5" y="432.8" width="14.9" height="13.7" stroke-width="1.2" fill="#fff"/>
<rect x="829.4" y="432.8" width="14.9" height="13.7" stroke-width="1.2" fill="#fff"/>
<text transform="translate(642.8 444.9)" text-anchor="middle" textLength="13.4" lengthAdjust="spacingAndGlyphs">36</text>
<text transform="translate(657.7 444.9)" text-anchor="middle" textLength="13.4" lengthAdjust="spacingAndGlyphs">40</text>
<text transform="translate(672.6 444.9)" text-anchor="middle" textLength="13.4" lengthAdjust="spacingAndGlyphs">41</text>
<text transform="translate(687.6 444.9)" text-anchor="middle" textLength="13.4" lengthAdjust="spacingAndGlyphs">15</text>
<text transform="translate(702.5 444.9)" text-anchor="middle" textLength="13.4" lengthAdjust="spacingAndGlyphs">11</text>
<text transform="translate(807 444.9)" text-anchor="middle" textLength="13.4" lengthAdjust="spacingAndGlyphs">28</text>
<text transform="translate(821.9 444.9)" text-anchor="middle" textLength="13.4" lengthAdjust="spacingAndGlyphs">47</text>
<text transform="translate(836.9 444.9)" text-anchor="middle" textLength="13.4" lengthAdjust="spacingAndGlyphs">48</text>
<rect x="635.3" y="673" width="14.9" height="13.7" stroke-width="1.2" fill="#fff"/>
<rect x="650.2" y="673" width="14.9" height="13.7" stroke-width="1.2" fill="#fff"/>
<rect x="665.2" y="673" width="14.9" height="13.7" stroke-width="1.2" fill="#fff"/>
<rect x="680.1" y="673" width="14.9" height="13.7" stroke-width="1.2" fill="#fff"/>
<rect x="695" y="673" width="14.9" height="13.7" stroke-width="1.2" fill="#fff"/>
<rect x="709.9" y="673" width="14.9" height="13.7" stroke-width="1.2" fill="#fff"/>
<rect x="724.9" y="673" width="14.9" height="13.7" stroke-width="1.2" fill="#fff"/>
<rect x="739.8" y="673" width="14.9" height="13.7" stroke-width="1.2" fill="#fff"/>
<rect x="754.7" y="673" width="14.9" height="13.7" stroke-width="1.2" fill="#fff"/>
<rect x="769.7" y="673" width="14.9" height="13.7" stroke-width="1.2" fill="#fff"/>
<rect x="784.6" y="673" width="14.9" height="13.7" stroke-width="1.2" fill="#fff"/>
<rect x="799.5" y="673" width="14.9" height="13.7" stroke-width="1.2" fill="#fff"/>
<rect x="814.5" y="673" width="14.9" height="13.7" stroke-width="1.2" fill="#fff"/>
<rect x="829.4" y="673" width="14.9" height="13.7" stroke-width="1.2" fill="#fff"/>
<text transform="translate(642.8 685.1)" text-anchor="middle" textLength="13.4" lengthAdjust="spacingAndGlyphs">24</text>
<text transform="translate(657.7 685.1)" text-anchor="middle" textLength="13.4" lengthAdjust="spacingAndGlyphs">46</text>
<text transform="translate(672.6 685.1)" text-anchor="middle" textLength="13.4" lengthAdjust="spacingAndGlyphs">45</text>
<text transform="translate(687.6 685.1)" text-anchor="middle" textLength="13.4" lengthAdjust="spacingAndGlyphs">12</text>
<text transform="translate(702.5 685.1)" text-anchor="middle">2</text>
<text transform="translate(717.4 685.1)" text-anchor="middle" textLength="13.4" lengthAdjust="spacingAndGlyphs">42</text>
<text transform="translate(732.3 685.1)" text-anchor="middle" textLength="13.4" lengthAdjust="spacingAndGlyphs">33</text>
<text transform="translate(747.3 685.1)" text-anchor="middle" textLength="13.4" lengthAdjust="spacingAndGlyphs">32</text>
<text transform="translate(762.2 685.1)" text-anchor="middle" textLength="13.4" lengthAdjust="spacingAndGlyphs">31</text>
<text transform="translate(777.1 685.1)" text-anchor="middle" textLength="13.4" lengthAdjust="spacingAndGlyphs">37</text>
<text transform="translate(792.1 685.1)" text-anchor="middle" textLength="13.4" lengthAdjust="spacingAndGlyphs">34</text>
<text transform="translate(836.9 685.1)" text-anchor="middle" textLength="13.4" lengthAdjust="spacingAndGlyphs">23</text>
<rect x="613" y="455.7" width="14" height="14.9" stroke-width="1.2" fill="#fff"/>
<rect x="613" y="470.6" width="14" height="14.9" stroke-width="1.2" fill="#fff"/>
<rect x="613" y="485.6" width="14" height="14.9" stroke-width="1.2" fill="#fff"/>
<rect x="613" y="500.5" width="14" height="14.9" stroke-width="1.2" fill="#fff"/>
<rect x="613" y="515.4" width="14" height="14.9" stroke-width="1.2" fill="#fff"/>
<rect x="613" y="530.4" width="14" height="14.9" stroke-width="1.2" fill="#fff"/>
<rect x="613" y="545.3" width="14" height="14.9" stroke-width="1.2" fill="#fff"/>
<rect x="613" y="560.2" width="14" height="14.9" stroke-width="1.2" fill="#fff"/>
<rect x="613" y="575.1" width="14" height="14.9" stroke-width="1.2" fill="#fff"/>
<rect x="613" y="590.1" width="14" height="14.9" stroke-width="1.2" fill="#fff"/>
<rect x="613" y="605" width="14" height="14.9" stroke-width="1.2" fill="#fff"/>
<rect x="613" y="619.9" width="14" height="14.9" stroke-width="1.2" fill="#fff"/>
<rect x="613" y="634.9" width="14" height="14.9" stroke-width="1.2" fill="#fff"/>
<rect x="613" y="649.8" width="14" height="14.9" stroke-width="1.2" fill="#fff"/>
<text transform="translate(615.7 463.2) rotate(90)" text-anchor="middle" textLength="13.4" lengthAdjust="spacingAndGlyphs">53</text>
<text transform="translate(615.7 478.1) rotate(90)" text-anchor="middle" textLength="13.4" lengthAdjust="spacingAndGlyphs">54</text>
<text transform="translate(615.7 493) rotate(90)" text-anchor="middle" textLength="13.4" lengthAdjust="spacingAndGlyphs">14</text>
<text transform="translate(615.7 508) rotate(90)" text-anchor="middle" textLength="13.4" lengthAdjust="spacingAndGlyphs">13</text>
<text transform="translate(615.7 522.9) rotate(90)" text-anchor="middle">8</text>
<text transform="translate(615.7 537.8) rotate(90)" text-anchor="middle">7</text>
<text transform="translate(615.7 552.7) rotate(90)" text-anchor="middle">1</text>
<text transform="translate(615.7 567.7) rotate(90)" text-anchor="middle">9</text>
<text transform="translate(615.7 582.6) rotate(90)" text-anchor="middle" textLength="13.4" lengthAdjust="spacingAndGlyphs">10</text>
<text transform="translate(615.7 597.5) rotate(90)" text-anchor="middle" textLength="13.4" lengthAdjust="spacingAndGlyphs">20</text>
<text transform="translate(615.7 612.5) rotate(90)" text-anchor="middle" textLength="13.4" lengthAdjust="spacingAndGlyphs">19</text>
<text transform="translate(615.7 627.4) rotate(90)" text-anchor="middle" textLength="13.4" lengthAdjust="spacingAndGlyphs">26</text>
<text transform="translate(615.7 642.3) rotate(90)" text-anchor="middle" textLength="13.4" lengthAdjust="spacingAndGlyphs">25</text>
<text transform="translate(615.7 657.3) rotate(90)" text-anchor="middle" textLength="13.4" lengthAdjust="spacingAndGlyphs">55</text>
<rect x="853.5" y="455.7" width="13.9" height="14.9" stroke-width="1.2" fill="#fff"/>
<rect x="853.5" y="470.6" width="13.9" height="14.9" stroke-width="1.2" fill="#fff"/>
<rect x="853.5" y="485.4" width="13.9" height="14.9" stroke-width="1.2" fill="#fff"/>
<rect x="853.5" y="500.3" width="13.9" height="14.9" stroke-width="1.2" fill="#fff"/>
<rect x="853.5" y="515.2" width="13.9" height="14.9" stroke-width="1.2" fill="#fff"/>
<rect x="853.5" y="530" width="13.9" height="14.9" stroke-width="1.2" fill="#fff"/>
<rect x="853.5" y="544.9" width="13.9" height="14.9" stroke-width="1.2" fill="#fff"/>
<rect x="853.5" y="559.8" width="13.9" height="14.9" stroke-width="1.2" fill="#fff"/>
<rect x="853.5" y="574.7" width="13.9" height="14.9" stroke-width="1.2" fill="#fff"/>
<rect x="853.5" y="589.5" width="13.9" height="14.9" stroke-width="1.2" fill="#fff"/>
<rect x="853.5" y="604.4" width="13.9" height="14.9" stroke-width="1.2" fill="#fff"/>
<rect x="853.5" y="619.3" width="13.9" height="14.9" stroke-width="1.2" fill="#fff"/>
<rect x="853.5" y="634.1" width="13.9" height="14.9" stroke-width="1.2" fill="#fff"/>
<text transform="translate(856.2 463.1) rotate(90)" text-anchor="middle" textLength="13.4" lengthAdjust="spacingAndGlyphs">18</text>
<text transform="translate(856.2 478) rotate(90)" text-anchor="middle" textLength="13.4" lengthAdjust="spacingAndGlyphs">17</text>
<text transform="translate(856.2 492.9) rotate(90)" text-anchor="middle" textLength="13.4" lengthAdjust="spacingAndGlyphs">27</text>
<text transform="translate(856.2 567.2) rotate(90)" text-anchor="middle" textLength="13.4" lengthAdjust="spacingAndGlyphs">16</text>
<text transform="translate(856.2 582.1) rotate(90)" text-anchor="middle">3</text>
<text transform="translate(856.2 611.8) rotate(90)" text-anchor="middle">4</text>
<text transform="translate(856.2 626.7) rotate(90)" text-anchor="middle" textLength="13.4" lengthAdjust="spacingAndGlyphs">49</text>
<text transform="translate(856.2 641.6) rotate(90)" text-anchor="middle">5</text>
<text transform="translate(860 447.3)" textLength="19" lengthAdjust="spacingAndGlyphs">56V</text>
<text transform="translate(889 447.3)" textLength="13.5" lengthAdjust="spacingAndGlyphs">NR</text>
<text transform="translate(607.3 461.7)" text-anchor="end" textLength="33.5" lengthAdjust="spacingAndGlyphs">6757A</text>
<text transform="translate(326 461.5)" textLength="33.5" lengthAdjust="spacingAndGlyphs">6757A</text>
<text transform="translate(607.3 476.6)" text-anchor="end" textLength="26.8" lengthAdjust="spacingAndGlyphs">6757</text>
<text transform="translate(326 476.4)" textLength="26.8" lengthAdjust="spacingAndGlyphs">6757</text>
<text transform="translate(607.3 491.4)" text-anchor="end" textLength="26.8" lengthAdjust="spacingAndGlyphs">6765</text>
<text transform="translate(326 491.2)" textLength="26.8" lengthAdjust="spacingAndGlyphs">6765</text>
<text transform="translate(607.3 506.2)" text-anchor="end" textLength="33.5" lengthAdjust="spacingAndGlyphs">6765A</text>
<text transform="translate(326 506.1)" textLength="33.5" lengthAdjust="spacingAndGlyphs">6765A</text>
<text transform="translate(607.3 521.1)" text-anchor="end" textLength="33.5" lengthAdjust="spacingAndGlyphs">6766A</text>
<text transform="translate(326 520.9)" textLength="33.5" lengthAdjust="spacingAndGlyphs">6766A</text>
<text transform="translate(607.3 536)" text-anchor="end" textLength="33.5" lengthAdjust="spacingAndGlyphs">6766B</text>
<text transform="translate(326 535.8)" textLength="33.5" lengthAdjust="spacingAndGlyphs">6766B</text>
<text transform="translate(607.3 550.8)" text-anchor="end" textLength="26.8" lengthAdjust="spacingAndGlyphs">6766</text>
<text transform="translate(326 550.6)" textLength="26.8" lengthAdjust="spacingAndGlyphs">6766</text>
<text transform="translate(607.3 565.6)" text-anchor="end" textLength="33.5" lengthAdjust="spacingAndGlyphs">6765B</text>
<text transform="translate(326 565.5)" textLength="33.5" lengthAdjust="spacingAndGlyphs">6765B</text>
<text transform="translate(607.3 580.5)" text-anchor="end" textLength="33.5" lengthAdjust="spacingAndGlyphs">6765C</text>
<text transform="translate(326 580.3)" textLength="33.5" lengthAdjust="spacingAndGlyphs">6765C</text>
<text transform="translate(607.3 595.4)" text-anchor="end" textLength="33.5" lengthAdjust="spacingAndGlyphs">6754A</text>
<text transform="translate(326 595.1)" textLength="33.5" lengthAdjust="spacingAndGlyphs">6754A</text>
<text transform="translate(607.3 610.2)" text-anchor="end" textLength="26.8" lengthAdjust="spacingAndGlyphs">6754</text>
<text transform="translate(326 610)" textLength="26.8" lengthAdjust="spacingAndGlyphs">6754</text>
<text transform="translate(607.3 625)" text-anchor="end" textLength="33.5" lengthAdjust="spacingAndGlyphs">6766C</text>
<text transform="translate(326 624.9)" textLength="33.5" lengthAdjust="spacingAndGlyphs">6766C</text>
<text transform="translate(607.3 639.8)" text-anchor="end" textLength="26.8" lengthAdjust="spacingAndGlyphs">6773</text>
<text transform="translate(607.3 654.8)" text-anchor="end" textLength="26.8" lengthAdjust="spacingAndGlyphs">1270</text>
<text transform="translate(871.7 461.3)" textLength="26.8" lengthAdjust="spacingAndGlyphs">6790</text>
<text transform="translate(871.7 476)" textLength="26.8" lengthAdjust="spacingAndGlyphs">6780</text>
<text transform="translate(871.7 491)" textLength="20.1" lengthAdjust="spacingAndGlyphs">C17</text>
<text transform="translate(871.7 566)" textLength="20.1" lengthAdjust="spacingAndGlyphs">218</text>
<text transform="translate(871.7 580.7)" textLength="33.5" lengthAdjust="spacingAndGlyphs">8075B</text>
<text transform="translate(871.7 610.7)" textLength="20.1" lengthAdjust="spacingAndGlyphs">463</text>
<text transform="translate(871.7 625.3)" textLength="26.8" lengthAdjust="spacingAndGlyphs">426B</text>
<text transform="translate(871.7 640.3)" textLength="26.8" lengthAdjust="spacingAndGlyphs">6772</text>
<text transform="translate(644.3 692.5) rotate(90)" textLength="26.4" lengthAdjust="spacingAndGlyphs">6771</text>
<text transform="translate(659.1 692.5) rotate(90)" textLength="26.4" lengthAdjust="spacingAndGlyphs">6756</text>
<text transform="translate(673.9 692.5) rotate(90)" textLength="33" lengthAdjust="spacingAndGlyphs">6755A</text>
<text transform="translate(688.9 692.5) rotate(90)" textLength="26.4" lengthAdjust="spacingAndGlyphs">1382</text>
<text transform="translate(703.8 692.5) rotate(90)" textLength="26.4" lengthAdjust="spacingAndGlyphs">1381</text>
<text transform="translate(718.8 692.5) rotate(90)" textLength="33" lengthAdjust="spacingAndGlyphs">6763A</text>
<text transform="translate(733.8 692.5) rotate(90)" textLength="33" lengthAdjust="spacingAndGlyphs">6762B</text>
<text transform="translate(748.8 692.5) rotate(90)" textLength="33" lengthAdjust="spacingAndGlyphs">6764A</text>
<text transform="translate(763.8 692.5) rotate(90)" textLength="33" lengthAdjust="spacingAndGlyphs">6763B</text>
<text transform="translate(778.8 692.5) rotate(90)" textLength="33" lengthAdjust="spacingAndGlyphs">6762A</text>
<text transform="translate(793.8 692.5) rotate(90)" textLength="33" lengthAdjust="spacingAndGlyphs">2250A</text>
<text transform="translate(838.7 693.8) rotate(90)" textLength="33.2" lengthAdjust="spacingAndGlyphs">1375A</text>
<text transform="translate(659.8 547) rotate(90)" textLength="26" lengthAdjust="spacingAndGlyphs">1630</text>
<rect x="741.3" y="497.3" width="30.9" height="30.2" stroke-width="1.2" fill="none"/>
<rect x="743.8" y="504.8" width="26.2" height="14.8" stroke-width="1.3" fill="none"/>
<path d="M770 510.1 A2 2 0 0 0 770 514.3" stroke-width="1.1"/>
<path d="M746.7 500.2 L746.7 504.8" stroke-width="1.2"/>
<path d="M746.7 519.6 L746.7 524.7" stroke-width="1.2"/>
<path d="M752.3 500.2 L752.3 504.8" stroke-width="1.2"/>
<path d="M752.3 519.6 L752.3 524.7" stroke-width="1.2"/>
<path d="M757.8 500.2 L757.8 504.8" stroke-width="1.2"/>
<path d="M757.8 519.6 L757.8 524.7" stroke-width="1.2"/>
<path d="M763.2 500.2 L763.2 504.8" stroke-width="1.2"/>
<path d="M763.2 519.6 L763.2 524.7" stroke-width="1.2"/>
<path d="M768.4 500.2 L768.4 504.8" stroke-width="1.2"/>
<path d="M768.4 519.6 L768.4 524.7" stroke-width="1.2"/>
<rect x="741.3" y="592.1" width="30.9" height="30.6" stroke-width="1.2" fill="none"/>
<path d="M747.4 595.8 L766.6 595.8" stroke-width="2"/>
<path d="M749.6 596 L753.8 602.5 L753.8 617.4 L758.8 617.4 L758.8 614.5 L762.2 614.5 L762.2 602.5 L765.7 596" stroke-width="1.7"/>
<path d="M762.2 611.4 L767.8 617.1" stroke-width="1.3"/>
<circle cx="768.1" cy="617.4" r="2" fill="#000" stroke="none"/>
<text transform="translate(745.7 598.7) rotate(90)" style="font-size:8px;font-weight:bold" textLength="19.1" lengthAdjust="spacingAndGlyphs">AUTO</text>
<rect x="90.3" y="427.5" width="156.3" height="593.6" stroke-width="3.2" fill="#fff"/>
<text transform="translate(68.5 523) rotate(90)" textLength="26" lengthAdjust="spacingAndGlyphs">1635</text>
<rect x="291.4" y="451.9" width="5.4" height="10.2" stroke-width="1.3" fill="#fff"/>
<path d="M295.4 451.9 L296.8 453.4" stroke-width="1.2"/>
<path d="M291.9 451.9 L296.8 457.3" stroke-width="1.2"/>
<path d="M291.4 455.2 L296.8 461.2" stroke-width="1.2"/>
<path d="M291.4 459.1 L294.1 462.1" stroke-width="1.2"/>
<rect x="291.4" y="466.8" width="5.4" height="10.2" stroke-width="1.3" fill="#fff"/>
<path d="M295.4 466.8 L296.8 468.3" stroke-width="1.2"/>
<path d="M291.9 466.8 L296.8 472.2" stroke-width="1.2"/>
<path d="M291.4 470.1 L296.8 476.1" stroke-width="1.2"/>
<path d="M291.4 474 L294.1 477" stroke-width="1.2"/>
<rect x="291.4" y="481.6" width="5.4" height="10.2" stroke-width="1.3" fill="#fff"/>
<path d="M295.4 481.6 L296.8 483.1" stroke-width="1.2"/>
<path d="M291.9 481.6 L296.8 487" stroke-width="1.2"/>
<path d="M291.4 484.9 L296.8 490.9" stroke-width="1.2"/>
<path d="M291.4 488.8 L294.1 491.8" stroke-width="1.2"/>
<rect x="291.4" y="496.5" width="5.4" height="10.2" stroke-width="1.3" fill="#fff"/>
<path d="M295.4 496.5 L296.8 498" stroke-width="1.2"/>
<path d="M291.9 496.5 L296.8 501.9" stroke-width="1.2"/>
<path d="M291.4 499.8 L296.8 505.8" stroke-width="1.2"/>
<path d="M291.4 503.7 L294.1 506.7" stroke-width="1.2"/>
<rect x="291.4" y="511.4" width="5.4" height="10.2" stroke-width="1.3" fill="#fff"/>
<path d="M295.4 511.4 L296.8 512.9" stroke-width="1.2"/>
<path d="M291.9 511.4 L296.8 516.8" stroke-width="1.2"/>
<path d="M291.4 514.7 L296.8 520.7" stroke-width="1.2"/>
<path d="M291.4 518.6 L294.1 521.6" stroke-width="1.2"/>
<rect x="291.4" y="526.2" width="5.4" height="10.2" stroke-width="1.3" fill="#fff"/>
<path d="M295.4 526.2 L296.8 527.8" stroke-width="1.2"/>
<path d="M291.9 526.2 L296.8 531.6" stroke-width="1.2"/>
<path d="M291.4 529.5 L296.8 535.5" stroke-width="1.2"/>
<path d="M291.4 533.4 L294.1 536.4" stroke-width="1.2"/>
<rect x="291.4" y="541.1" width="5.4" height="10.2" stroke-width="1.3" fill="#fff"/>
<path d="M295.4 541.1 L296.8 542.6" stroke-width="1.2"/>
<path d="M291.9 541.1 L296.8 546.5" stroke-width="1.2"/>
<path d="M291.4 544.4 L296.8 550.4" stroke-width="1.2"/>
<path d="M291.4 548.3 L294.1 551.3" stroke-width="1.2"/>
<rect x="291.4" y="556" width="5.4" height="10.2" stroke-width="1.3" fill="#fff"/>
<path d="M295.4 556 L296.8 557.5" stroke-width="1.2"/>
<path d="M291.9 556 L296.8 561.4" stroke-width="1.2"/>
<path d="M291.4 559.3 L296.8 565.3" stroke-width="1.2"/>
<path d="M291.4 563.2 L294.1 566.2" stroke-width="1.2"/>
<rect x="291.4" y="570.9" width="5.4" height="10.2" stroke-width="1.3" fill="#fff"/>
<path d="M295.4 570.9 L296.8 572.4" stroke-width="1.2"/>
<path d="M291.9 570.9 L296.8 576.3" stroke-width="1.2"/>
<path d="M291.4 574.2 L296.8 580.2" stroke-width="1.2"/>
<path d="M291.4 578.1 L294.1 581.1" stroke-width="1.2"/>
<rect x="291.4" y="585.7" width="5.4" height="10.2" stroke-width="1.3" fill="#fff"/>
<path d="M295.4 585.7 L296.8 587.2" stroke-width="1.2"/>
<path d="M291.9 585.7 L296.8 591.1" stroke-width="1.2"/>
<path d="M291.4 589 L296.8 595" stroke-width="1.2"/>
<path d="M291.4 592.9 L294.1 595.9" stroke-width="1.2"/>
<rect x="291.4" y="600.6" width="5.4" height="10.2" stroke-width="1.3" fill="#fff"/>
<path d="M295.4 600.6 L296.8 602.1" stroke-width="1.2"/>
<path d="M291.9 600.6 L296.8 606" stroke-width="1.2"/>
<path d="M291.4 603.9 L296.8 609.9" stroke-width="1.2"/>
<path d="M291.4 607.8 L294.1 610.8" stroke-width="1.2"/>
<rect x="291.4" y="615.5" width="5.4" height="10.2" stroke-width="1.3" fill="#fff"/>
<path d="M295.4 615.5 L296.8 617" stroke-width="1.2"/>
<path d="M291.9 615.5 L296.8 620.9" stroke-width="1.2"/>
<path d="M291.4 618.8 L296.8 624.8" stroke-width="1.2"/>
<path d="M291.4 622.7 L294.1 625.7" stroke-width="1.2"/>
<rect x="291.4" y="631.2" width="5.4" height="39.6" stroke-width="1.3" fill="#fff"/>
<path d="M295.4 631.2 L296.8 632.7" stroke-width="1.2"/>
<path d="M291.9 631.2 L296.8 636.6" stroke-width="1.2"/>
<path d="M291.4 634.5 L296.8 640.5" stroke-width="1.2"/>
<path d="M291.4 638.4 L296.8 644.4" stroke-width="1.2"/>
<path d="M291.4 642.3 L296.8 648.3" stroke-width="1.2"/>
<path d="M291.4 646.2 L296.8 652.2" stroke-width="1.2"/>
<path d="M291.4 650.1 L296.8 656.1" stroke-width="1.2"/>
<path d="M291.4 654 L296.8 660" stroke-width="1.2"/>
<path d="M291.4 657.9 L296.8 663.9" stroke-width="1.2"/>
<path d="M291.4 661.8 L296.8 667.8" stroke-width="1.2"/>
<path d="M291.4 665.7 L296 670.8" stroke-width="1.2"/>
<path d="M291.4 669.6 L292.5 670.8" stroke-width="1.2"/>
<rect x="291.4" y="675.7" width="5.4" height="10" stroke-width="1.3" fill="#fff"/>
<path d="M295.4 675.7 L296.8 677.2" stroke-width="1.2"/>
<path d="M291.9 675.7 L296.8 681.1" stroke-width="1.2"/>
<path d="M291.4 679 L296.8 685" stroke-width="1.2"/>
<path d="M291.4 682.9 L293.9 685.7" stroke-width="1.2"/>
<rect x="291.4" y="690.5" width="5.4" height="10" stroke-width="1.3" fill="#fff"/>
<path d="M295.4 690.5 L296.8 692" stroke-width="1.2"/>
<path d="M291.9 690.5 L296.8 695.9" stroke-width="1.2"/>
<path d="M291.4 693.8 L296.8 699.8" stroke-width="1.2"/>
<path d="M291.4 697.7 L293.9 700.5" stroke-width="1.2"/>
<rect x="291.4" y="706" width="5.4" height="23.8" stroke-width="1.3" fill="#fff"/>
<path d="M295.4 706 L296.8 707.5" stroke-width="1.2"/>
<path d="M291.9 706 L296.8 711.4" stroke-width="1.2"/>
<path d="M291.4 709.3 L296.8 715.3" stroke-width="1.2"/>
<path d="M291.4 713.2 L296.8 719.2" stroke-width="1.2"/>
<path d="M291.4 717.1 L296.8 723.1" stroke-width="1.2"/>
<path d="M291.4 721 L296.8 727" stroke-width="1.2"/>
<path d="M291.4 724.9 L295.8 729.8" stroke-width="1.2"/>
<path d="M291.4 728.8 L292.3 729.8" stroke-width="1.2"/>
<rect x="291.4" y="736.5" width="5.4" height="9.2" stroke-width="1.3" fill="#fff"/>
<path d="M295.4 736.5 L296.8 738" stroke-width="1.2"/>
<path d="M291.9 736.5 L296.8 741.9" stroke-width="1.2"/>
<path d="M291.4 739.8 L296.7 745.7" stroke-width="1.2"/>
<path d="M291.4 743.7 L293.2 745.7" stroke-width="1.2"/>
<rect x="291.4" y="751.6" width="5.4" height="23" stroke-width="1.3" fill="#fff"/>
<path d="M295.4 751.6 L296.8 753.1" stroke-width="1.2"/>
<path d="M291.9 751.6 L296.8 757" stroke-width="1.2"/>
<path d="M291.4 754.9 L296.8 760.9" stroke-width="1.2"/>
<path d="M291.4 758.8 L296.8 764.8" stroke-width="1.2"/>
<path d="M291.4 762.7 L296.8 768.7" stroke-width="1.2"/>
<path d="M291.4 766.6 L296.8 772.6" stroke-width="1.2"/>
<path d="M291.4 770.5 L295.1 774.6" stroke-width="1.2"/>
<rect x="291.4" y="781.7" width="5.4" height="8.8" stroke-width="1.3" fill="#fff"/>
<path d="M295.4 781.7 L296.8 783.2" stroke-width="1.2"/>
<path d="M291.9 781.7 L296.8 787.1" stroke-width="1.2"/>
<path d="M291.4 785 L296.4 790.5" stroke-width="1.2"/>
<path d="M291.4 788.9 L292.8 790.5" stroke-width="1.2"/>
<rect x="291.4" y="796.4" width="5.4" height="18.1" stroke-width="1.3" fill="#fff"/>
<path d="M295.4 796.4 L296.8 797.9" stroke-width="1.2"/>
<path d="M291.9 796.4 L296.8 801.8" stroke-width="1.2"/>
<path d="M291.4 799.7 L296.8 805.7" stroke-width="1.2"/>
<path d="M291.4 803.6 L296.8 809.6" stroke-width="1.2"/>
<path d="M291.4 807.5 L296.8 813.5" stroke-width="1.2"/>
<path d="M291.4 811.4 L294.2 814.5" stroke-width="1.2"/>
<rect x="291.4" y="818.9" width="5.4" height="10.4" stroke-width="1.3" fill="#fff"/>
<path d="M295.4 818.9 L296.8 820.4" stroke-width="1.2"/>
<path d="M291.9 818.9 L296.8 824.3" stroke-width="1.2"/>
<path d="M291.4 822.2 L296.8 828.2" stroke-width="1.2"/>
<path d="M291.4 826.1 L294.3 829.3" stroke-width="1.2"/>
<rect x="291.4" y="833.9" width="5.4" height="10.4" stroke-width="1.3" fill="#fff"/>
<path d="M295.4 833.9 L296.8 835.4" stroke-width="1.2"/>
<path d="M291.9 833.9 L296.8 839.3" stroke-width="1.2"/>
<path d="M291.4 837.2 L296.8 843.2" stroke-width="1.2"/>
<path d="M291.4 841.1 L294.3 844.3" stroke-width="1.2"/>
<rect x="291.4" y="848.9" width="5.4" height="10.4" stroke-width="1.3" fill="#fff"/>
<path d="M295.4 848.9 L296.8 850.4" stroke-width="1.2"/>
<path d="M291.9 848.9 L296.8 854.3" stroke-width="1.2"/>
<path d="M291.4 852.2 L296.8 858.2" stroke-width="1.2"/>
<path d="M291.4 856.1 L294.3 859.3" stroke-width="1.2"/>
<rect x="291.4" y="863.8" width="5.4" height="10.4" stroke-width="1.3" fill="#fff"/>
<path d="M295.4 863.8 L296.8 865.3" stroke-width="1.2"/>
<path d="M291.9 863.8 L296.8 869.2" stroke-width="1.2"/>
<path d="M291.4 867.1 L296.8 873.1" stroke-width="1.2"/>
<path d="M291.4 871 L294.3 874.2" stroke-width="1.2"/>
<rect x="291.4" y="878.8" width="5.4" height="10.4" stroke-width="1.3" fill="#fff"/>
<path d="M295.4 878.8 L296.8 880.3" stroke-width="1.2"/>
<path d="M291.9 878.8 L296.8 884.2" stroke-width="1.2"/>
<path d="M291.4 882.1 L296.8 888.1" stroke-width="1.2"/>
<path d="M291.4 886 L294.3 889.2" stroke-width="1.2"/>
<rect x="291.4" y="893.8" width="5.4" height="10.4" stroke-width="1.3" fill="#fff"/>
<path d="M295.4 893.8 L296.8 895.3" stroke-width="1.2"/>
<path d="M291.9 893.8 L296.8 899.2" stroke-width="1.2"/>
<path d="M291.4 897.1 L296.8 903.1" stroke-width="1.2"/>
<path d="M291.4 901 L294.3 904.2" stroke-width="1.2"/>
<rect x="291.4" y="908.8" width="5.4" height="10.4" stroke-width="1.3" fill="#fff"/>
<path d="M295.4 908.8 L296.8 910.3" stroke-width="1.2"/>
<path d="M291.9 908.8 L296.8 914.2" stroke-width="1.2"/>
<path d="M291.4 912.1 L296.8 918.1" stroke-width="1.2"/>
<path d="M291.4 916 L294.3 919.2" stroke-width="1.2"/>
<rect x="291.4" y="923.8" width="5.4" height="10.4" stroke-width="1.3" fill="#fff"/>
<path d="M295.4 923.8 L296.8 925.3" stroke-width="1.2"/>
<path d="M291.9 923.8 L296.8 929.2" stroke-width="1.2"/>
<path d="M291.4 927.1 L296.8 933.1" stroke-width="1.2"/>
<path d="M291.4 931 L294.3 934.2" stroke-width="1.2"/>
<rect x="291.4" y="938.7" width="5.4" height="10.4" stroke-width="1.3" fill="#fff"/>
<path d="M295.4 938.7 L296.8 940.2" stroke-width="1.2"/>
<path d="M291.9 938.7 L296.8 944.1" stroke-width="1.2"/>
<path d="M291.4 942 L296.8 948" stroke-width="1.2"/>
<path d="M291.4 945.9 L294.3 949.1" stroke-width="1.2"/>
<rect x="291.4" y="953.7" width="5.4" height="10.4" stroke-width="1.3" fill="#fff"/>
<path d="M295.4 953.7 L296.8 955.2" stroke-width="1.2"/>
<path d="M291.9 953.7 L296.8 959.1" stroke-width="1.2"/>
<path d="M291.4 957 L296.8 963" stroke-width="1.2"/>
<path d="M291.4 960.9 L294.3 964.1" stroke-width="1.2"/>
<rect x="291.4" y="968.7" width="5.4" height="10.4" stroke-width="1.3" fill="#fff"/>
<path d="M295.4 968.7 L296.8 970.2" stroke-width="1.2"/>
<path d="M291.9 968.7 L296.8 974.1" stroke-width="1.2"/>
<path d="M291.4 972 L296.8 978" stroke-width="1.2"/>
<path d="M291.4 975.9 L294.3 979.1" stroke-width="1.2"/>
<rect x="291.4" y="985.4" width="5.4" height="9.8" stroke-width="1.3" fill="#fff"/>
<path d="M295.4 985.4 L296.8 986.9" stroke-width="1.2"/>
<path d="M291.9 985.4 L296.8 990.8" stroke-width="1.2"/>
<path d="M291.4 988.7 L296.8 994.7" stroke-width="1.2"/>
<path d="M291.4 992.6 L293.7 995.2" stroke-width="1.2"/>
<rect x="296.8" y="456.8" width="24.4" height="15" stroke-width="1.2" fill="#fff"/>
<text transform="translate(309 468.9)" text-anchor="middle" style="font-size:13px" textLength="14.6" lengthAdjust="spacingAndGlyphs">B4</text>
<rect x="296.8" y="471.8" width="24.4" height="15" stroke-width="1.2" fill="#fff"/>
<text transform="translate(309 483.9)" text-anchor="middle" style="font-size:13px" textLength="14.6" lengthAdjust="spacingAndGlyphs">B1</text>
<rect x="296.8" y="486.7" width="24.4" height="15" stroke-width="1.2" fill="#fff"/>
<text transform="translate(309 498.8)" text-anchor="middle" style="font-size:13px" textLength="14.6" lengthAdjust="spacingAndGlyphs">B2</text>
<rect x="296.8" y="501.7" width="24.4" height="15" stroke-width="1.2" fill="#fff"/>
<text transform="translate(309 513.8)" text-anchor="middle" style="font-size:13px" textLength="14.6" lengthAdjust="spacingAndGlyphs">B5</text>
<rect x="296.8" y="516.6" width="24.4" height="15" stroke-width="1.2" fill="#fff"/>
<text transform="translate(309 528.7)" text-anchor="middle" style="font-size:13px" textLength="14.6" lengthAdjust="spacingAndGlyphs">B7</text>
<rect x="296.8" y="531.6" width="24.4" height="15" stroke-width="1.2" fill="#fff"/>
<text transform="translate(309 543.6)" text-anchor="middle" style="font-size:13px" textLength="21.9" lengthAdjust="spacingAndGlyphs">B10</text>
<rect x="296.8" y="546.5" width="24.4" height="15" stroke-width="1.2" fill="#fff"/>
<text transform="translate(309 558.6)" text-anchor="middle" style="font-size:13px" textLength="14.6" lengthAdjust="spacingAndGlyphs">B3</text>
<rect x="296.8" y="561.5" width="24.4" height="15" stroke-width="1.2" fill="#fff"/>
<text transform="translate(309 573.6)" text-anchor="middle" style="font-size:13px" textLength="14.6" lengthAdjust="spacingAndGlyphs">B8</text>
<rect x="296.8" y="576.4" width="24.4" height="15" stroke-width="1.2" fill="#fff"/>
<text transform="translate(309 588.5)" text-anchor="middle" style="font-size:13px" textLength="21.9" lengthAdjust="spacingAndGlyphs">B11</text>
<rect x="296.8" y="591.4" width="24.4" height="15" stroke-width="1.2" fill="#fff"/>
<text transform="translate(309 603.5)" text-anchor="middle" style="font-size:13px" textLength="14.6" lengthAdjust="spacingAndGlyphs">B9</text>
<rect x="296.8" y="606.3" width="24.4" height="15" stroke-width="1.2" fill="#fff"/>
<text transform="translate(309 618.4)" text-anchor="middle" style="font-size:13px" textLength="14.6" lengthAdjust="spacingAndGlyphs">B6</text>
<rect x="296.8" y="621.3" width="24.4" height="15" stroke-width="1.2" fill="#fff"/>
<text transform="translate(309 633.4)" text-anchor="middle" style="font-size:13px" textLength="21.9" lengthAdjust="spacingAndGlyphs">B12</text>
<rect x="296.8" y="666.2" width="24.4" height="14.9" stroke-width="1.2" fill="#fff"/>
<text transform="translate(309 678.3)" text-anchor="middle" style="font-size:13px" textLength="14.6" lengthAdjust="spacingAndGlyphs">C3</text>
<rect x="296.8" y="681.1" width="24.4" height="14.9" stroke-width="1.2" fill="#fff"/>
<text transform="translate(309 693.2)" text-anchor="middle" style="font-size:13px" textLength="14.6" lengthAdjust="spacingAndGlyphs">C2</text>
<rect x="296.8" y="695.9" width="24.4" height="14.9" stroke-width="1.2" fill="#fff"/>
<text transform="translate(309 708)" text-anchor="middle" style="font-size:13px" textLength="14.6" lengthAdjust="spacingAndGlyphs">C1</text>
<rect x="296.8" y="727.1" width="24.4" height="14.9" stroke-width="1.2" fill="#fff"/>
<text transform="translate(309 739.2)" text-anchor="middle" style="font-size:13px" textLength="14.6" lengthAdjust="spacingAndGlyphs">D2</text>
<rect x="296.8" y="741.9" width="24.4" height="14.9" stroke-width="1.2" fill="#fff"/>
<text transform="translate(309 753.9)" text-anchor="middle" style="font-size:13px" textLength="14.6" lengthAdjust="spacingAndGlyphs">D1</text>
<rect x="296.8" y="756.1" width="24.4" height="14.9" stroke-width="1.2" fill="#fff"/>
<rect x="296.8" y="771.3" width="24.4" height="14.9" stroke-width="1.2" fill="#fff"/>
<text transform="translate(309 783.4)" text-anchor="middle" style="font-size:13px" textLength="14.6" lengthAdjust="spacingAndGlyphs">E2</text>
<rect x="296.8" y="786.2" width="24.4" height="14.9" stroke-width="1.2" fill="#fff"/>
<text transform="translate(309 798.3)" text-anchor="middle" style="font-size:13px" textLength="14.6" lengthAdjust="spacingAndGlyphs">E1</text>
<rect x="296.8" y="808.3" width="24.4" height="14.9" stroke-width="1.2" fill="#fff"/>
<rect x="296.8" y="823.2" width="24.4" height="15.2" stroke-width="1.2" fill="#fff"/>
<text transform="translate(309 835.4)" text-anchor="middle" style="font-size:13px" textLength="14.6" lengthAdjust="spacingAndGlyphs">A7</text>
<rect x="296.8" y="838.4" width="24.4" height="15.2" stroke-width="1.2" fill="#fff"/>
<text transform="translate(309 850.6)" text-anchor="middle" style="font-size:13px" textLength="21.9" lengthAdjust="spacingAndGlyphs">A12</text>
<rect x="296.8" y="853.6" width="24.4" height="15.2" stroke-width="1.2" fill="#fff"/>
<text transform="translate(309 865.7)" text-anchor="middle" style="font-size:13px" textLength="21.9" lengthAdjust="spacingAndGlyphs">A11</text>
<rect x="296.8" y="868.7" width="24.4" height="15.2" stroke-width="1.2" fill="#fff"/>
<text transform="translate(309 880.9)" text-anchor="middle" style="font-size:13px" textLength="21.9" lengthAdjust="spacingAndGlyphs">A10</text>
<rect x="296.8" y="883.9" width="24.4" height="15.2" stroke-width="1.2" fill="#fff"/>
<text transform="translate(309 896.1)" text-anchor="middle" style="font-size:13px" textLength="14.6" lengthAdjust="spacingAndGlyphs">A9</text>
<rect x="296.8" y="899.1" width="24.4" height="15.2" stroke-width="1.2" fill="#fff"/>
<text transform="translate(309 911.2)" text-anchor="middle" style="font-size:13px" textLength="14.6" lengthAdjust="spacingAndGlyphs">A8</text>
<rect x="296.8" y="914.2" width="24.4" height="15.2" stroke-width="1.2" fill="#fff"/>
<text transform="translate(309 926.4)" text-anchor="middle" style="font-size:13px" textLength="14.6" lengthAdjust="spacingAndGlyphs">A1</text>
<rect x="296.8" y="929.4" width="24.4" height="15.2" stroke-width="1.2" fill="#fff"/>
<text transform="translate(309 941.6)" text-anchor="middle" style="font-size:13px" textLength="14.6" lengthAdjust="spacingAndGlyphs">A2</text>
<rect x="296.8" y="944.6" width="24.4" height="15.2" stroke-width="1.2" fill="#fff"/>
<text transform="translate(309 956.8)" text-anchor="middle" style="font-size:13px" textLength="14.6" lengthAdjust="spacingAndGlyphs">A5</text>
<rect x="296.8" y="959.7" width="24.4" height="15.2" stroke-width="1.2" fill="#fff"/>
<text transform="translate(309 971.9)" text-anchor="middle" style="font-size:13px" textLength="14.6" lengthAdjust="spacingAndGlyphs">A4</text>
<rect x="296.8" y="974.9" width="24.4" height="15.2" stroke-width="1.2" fill="#fff"/>
<text transform="translate(309 987.1)" text-anchor="middle" style="font-size:13px" textLength="14.6" lengthAdjust="spacingAndGlyphs">A3</text>
<path d="M291.4 464.3 L296.8 464.3" stroke-width="1.2"/>
<path d="M291.4 479.2 L296.8 479.2" stroke-width="1.2"/>
<path d="M291.4 494 L296.8 494" stroke-width="1.2"/>
<path d="M291.4 508.9 L296.8 508.9" stroke-width="1.2"/>
<path d="M291.4 523.8 L296.8 523.8" stroke-width="1.2"/>
<path d="M291.4 538.6 L296.8 538.6" stroke-width="1.2"/>
<path d="M291.4 553.5 L296.8 553.5" stroke-width="1.2"/>
<path d="M291.4 568.4 L296.8 568.4" stroke-width="1.2"/>
<path d="M291.4 583.3 L296.8 583.3" stroke-width="1.2"/>
<path d="M291.4 598.1 L296.8 598.1" stroke-width="1.2"/>
<path d="M291.4 613 L296.8 613" stroke-width="1.2"/>
<path d="M291.4 627.9 L296.8 627.9" stroke-width="1.2"/>
<path d="M291.4 673.4 L296.8 673.4" stroke-width="1.2"/>
<path d="M291.4 688.3 L296.8 688.3" stroke-width="1.2"/>
<path d="M291.4 703.1 L296.8 703.1" stroke-width="1.2"/>
<path d="M291.4 734 L296.8 734" stroke-width="1.2"/>
<path d="M291.4 748.7 L296.8 748.7" stroke-width="1.2"/>
<path d="M291.4 778.5 L296.8 778.5" stroke-width="1.2"/>
<path d="M291.4 793.4 L296.8 793.4" stroke-width="1.2"/>
<path d="M291.4 831.7 L296.8 831.7" stroke-width="1.2"/>
<path d="M291.4 846.7 L296.8 846.7" stroke-width="1.2"/>
<path d="M291.4 861.7 L296.8 861.7" stroke-width="1.2"/>
<path d="M291.4 876.6 L296.8 876.6" stroke-width="1.2"/>
<path d="M291.4 891.6 L296.8 891.6" stroke-width="1.2"/>
<path d="M291.4 906.6 L296.8 906.6" stroke-width="1.2"/>
<path d="M291.4 921.6 L296.8 921.6" stroke-width="1.2"/>
<path d="M291.4 936.6 L296.8 936.6" stroke-width="1.2"/>
<path d="M291.4 951.5 L296.8 951.5" stroke-width="1.2"/>
<path d="M291.4 966.5 L296.8 966.5" stroke-width="1.2"/>
<path d="M291.4 981.5 L296.8 981.5" stroke-width="1.2"/>
<text transform="translate(299.2 449.8)" textLength="18.6" lengthAdjust="spacingAndGlyphs">33V</text>
<text transform="translate(333 449.8)" textLength="14" lengthAdjust="spacingAndGlyphs">GR</text>
<text transform="translate(326 670)" textLength="26.8" lengthAdjust="spacingAndGlyphs">6773</text>
<text transform="translate(326 685.3)" textLength="26.8" lengthAdjust="spacingAndGlyphs">1270</text>
<text transform="translate(326 700)" textLength="26.8" lengthAdjust="spacingAndGlyphs">6771</text>
<text transform="translate(326 730.7)" textLength="26.8" lengthAdjust="spacingAndGlyphs">6756</text>
<text transform="translate(326 745.5)" textLength="33.5" lengthAdjust="spacingAndGlyphs">6755A</text>
<text transform="translate(326 775.7)" textLength="26.8" lengthAdjust="spacingAndGlyphs">1382</text>
<text transform="translate(326 791)" textLength="26.8" lengthAdjust="spacingAndGlyphs">1381</text>
<text transform="translate(326 829)" textLength="33.5" lengthAdjust="spacingAndGlyphs">6763A</text>
<text transform="translate(326 844)" textLength="33.5" lengthAdjust="spacingAndGlyphs">6762B</text>
<text transform="translate(326 859)" textLength="33.5" lengthAdjust="spacingAndGlyphs">6764A</text>
<text transform="translate(326 873.9)" textLength="33.5" lengthAdjust="spacingAndGlyphs">6763B</text>
<text transform="translate(326 888.9)" textLength="33.5" lengthAdjust="spacingAndGlyphs">6762A</text>
<text transform="translate(326 903.9)" textLength="33.5" lengthAdjust="spacingAndGlyphs">2250A</text>
<text transform="translate(326 918.9)" textLength="20.1" lengthAdjust="spacingAndGlyphs">220</text>
<text transform="translate(326 933.9)" textLength="26.8" lengthAdjust="spacingAndGlyphs">C12H</text>
<text transform="translate(326 948.8)" textLength="26.8" lengthAdjust="spacingAndGlyphs">1650</text>
<text transform="translate(326 963.8)" textLength="26.8" lengthAdjust="spacingAndGlyphs">M17E</text>
<text transform="translate(326 978.8)" textLength="33.5" lengthAdjust="spacingAndGlyphs">6775A</text>
<rect x="97.5" y="435.1" width="141.7" height="224" stroke-width="1.4" fill="none" stroke-dasharray="10 4"/>
<rect x="97.5" y="667.2" width="141.7" height="40.5" stroke-width="1.4" fill="none" stroke-dasharray="10 4"/>
<rect x="98.7" y="715.2" width="140.5" height="37.2" stroke-width="1.4" fill="none" stroke-dasharray="10 4"/>
<rect x="148.6" y="756.6" width="90.6" height="45.7" stroke-width="1.4" fill="none" stroke-dasharray="10 4"/>
<rect x="97.8" y="809.3" width="142.1" height="181.3" stroke-width="1.4" fill="none" stroke-dasharray="10 4"/>
<rect x="111.8" y="443.1" width="30.1" height="29.6" stroke-width="1.2" fill="none"/>
<path d="M111.8 452.3 L120 452.3" stroke-width="1.2"/>
<path d="M122.5 454 L135 467" stroke-width="5" stroke-linecap="round" stroke="#111"/>
<path d="M124 455.5 L135 467" stroke-width="2.6" stroke-linecap="round" stroke="#fff"/>
<circle cx="121.5" cy="452.6" r="3.6" fill="#000" stroke="none"/>
<text transform="translate(148.9 462.3)" text-anchor="middle" style="font-size:11.5px">+</text>
<path d="M196.8 442.1 L285 442.1 L285 464.3 L291.4 464.3" stroke-width="1.2"/>
<path d="M173.4 442.1 L163.6 442.1 L163.6 464.3 L276.6 464.3 L276.6 479.2 L291.4 479.2" stroke-width="1.2"/>
<rect x="173.4" y="437.6" width="23.4" height="10" stroke-width="1.1" fill="#fff"/>
<path d="M173.7 433 L195.4 451" stroke-width="1.1"/>
<path d="M168 451.5 L168 457 L170.5 457" stroke-width="1.2"/>
<path d="M166.3 453.5 L170 453.5" stroke-width="1.2"/>
<path d="M176.2 454.5 L196 454.5" stroke-width="1.2"/>
<path d="M197.5 454.5 L193 452.8 L193 456.2 Z" fill="#000" stroke="none"/>
<circle cx="175.5" cy="460.2" r="1" fill="#000" stroke="none"/>
<circle cx="180.5" cy="460.2" r="1.2" fill="#000" stroke="none"/>
<path d="M183 460.2 L197 460.2" stroke-width="1.2" stroke-dasharray="6 2"/>
<path d="M205.5 455 L205.5 459" stroke-width="1.2"/>
<path d="M201.3 477.1 L209.7 477.1 L201.3 493.5 L209.7 493.5 Z" stroke-width="1.1" fill="#fff"/>
<path d="M205.5 473.9 L205.5 477.1" stroke-width="1.1"/>
<path d="M205.5 493.5 L205.5 496.7" stroke-width="1.1"/>
<path d="M203.3 475.7 L207.7 475.7" stroke-width="0.9"/>
<path d="M203.3 494.9 L207.7 494.9" stroke-width="0.9"/>
<path d="M205.5 485.3 L218.4 485.3" stroke-width="1.2"/>
<rect x="218.4" y="476" width="7.5" height="18.6" stroke-width="1.2" fill="#fff"/>
<path d="M218.4 484.1 L225.9 489.9" stroke-width="1.1"/>
<path d="M225.9 479.4 L269.9 479.4 L269.9 494 L291.4 494" stroke-width="1.2"/>
<path d="M225.9 490.8 L231.8 490.8 L231.8 603.3 L196.3 603.3" stroke-width="1.2"/>
<path d="M171.2 500 L179.6 500 L171.2 516.4 L179.6 516.4 Z" stroke-width="1.1" fill="#fff"/>
<path d="M175.4 496.8 L175.4 500" stroke-width="1.1"/>
<path d="M175.4 516.4 L175.4 519.6" stroke-width="1.1"/>
<path d="M173.2 498.6 L177.6 498.6" stroke-width="0.9"/>
<path d="M173.2 517.8 L177.6 517.8" stroke-width="0.9"/>
<path d="M175.4 508.2 L188.7 508.2" stroke-width="1.2"/>
<rect x="188.7" y="498.9" width="7.5" height="18.6" stroke-width="1.2" fill="#fff"/>
<path d="M188.7 507 L196.2 512.8" stroke-width="1.1"/>
<path d="M196.2 502 L261.5 502 L261.5 508.9 L291.4 508.9" stroke-width="1.2"/>
<path d="M196.2 512.9 L231.8 512.9" stroke-width="1.2"/>
<circle cx="231.8" cy="512.9" r="2.1" fill="#000" stroke="none"/>
<path d="M141 522.2 L149.4 522.2 L141 538.6 L149.4 538.6 Z" stroke-width="1.1" fill="#fff"/>
<path d="M145.2 519 L145.2 522.2" stroke-width="1.1"/>
<path d="M145.2 538.6 L145.2 541.8" stroke-width="1.1"/>
<path d="M143 520.8 L147.4 520.8" stroke-width="0.9"/>
<path d="M143 540 L147.4 540" stroke-width="0.9"/>
<path d="M145.2 530.4 L158.6 530.4" stroke-width="1.2"/>
<rect x="158.6" y="521.1" width="7.5" height="18.6" stroke-width="1.2" fill="#fff"/>
<path d="M158.6 529.2 L166.1 535" stroke-width="1.1"/>
<path d="M166.1 524.6 L291.4 523.8" stroke-width="1.2"/>
<path d="M166.1 535.5 L231.8 535.5" stroke-width="1.2"/>
<circle cx="231.8" cy="535.5" r="2.1" fill="#000" stroke="none"/>
<path d="M111.8 544.8 L120.2 544.8 L111.8 561.2 L120.2 561.2 Z" stroke-width="1.1" fill="#fff"/>
<path d="M116 541.6 L116 544.8" stroke-width="1.1"/>
<path d="M116 561.2 L116 564.4" stroke-width="1.1"/>
<path d="M113.8 543.4 L118.2 543.4" stroke-width="0.9"/>
<path d="M113.8 562.6 L118.2 562.6" stroke-width="0.9"/>
<path d="M116 553 L128.8 553" stroke-width="1.2"/>
<rect x="128.8" y="543.7" width="7.5" height="18.6" stroke-width="1.2" fill="#fff"/>
<path d="M128.8 551.8 L136.3 557.6" stroke-width="1.1"/>
<path d="M136.3 547.1 L261.5 547.1 L261.5 538.6 L291.4 538.6" stroke-width="1.2"/>
<path d="M136.3 557.8 L269.1 557.8 L269.1 553.5 L291.4 553.5" stroke-width="1.2"/>
<circle cx="231.8" cy="557.8" r="2.1" fill="#000" stroke="none"/>
<path d="M141 566.6 L149.4 566.6 L141 583 L149.4 583 Z" stroke-width="1.1" fill="#fff"/>
<path d="M145.2 563.4 L145.2 566.6" stroke-width="1.1"/>
<path d="M145.2 583 L145.2 586.2" stroke-width="1.1"/>
<path d="M143 565.2 L147.4 565.2" stroke-width="0.9"/>
<path d="M143 584.4 L147.4 584.4" stroke-width="0.9"/>
<path d="M145.2 574.8 L158.6 574.8" stroke-width="1.2"/>
<rect x="158.6" y="565.5" width="7.5" height="18.6" stroke-width="1.2" fill="#fff"/>
<path d="M158.6 573.6 L166.1 579.4" stroke-width="1.1"/>
<path d="M166.1 569.3 L291.4 568.4" stroke-width="1.2"/>
<path d="M166.1 580.5 L231.8 580.5" stroke-width="1.2"/>
<circle cx="231.8" cy="580.5" r="2.1" fill="#000" stroke="none"/>
<path d="M171.2 589.2 L179.6 589.2 L171.2 605.6 L179.6 605.6 Z" stroke-width="1.1" fill="#fff"/>
<path d="M175.4 586 L175.4 589.2" stroke-width="1.1"/>
<path d="M175.4 605.6 L175.4 608.8" stroke-width="1.1"/>
<path d="M173.2 587.8 L177.6 587.8" stroke-width="0.9"/>
<path d="M173.2 607 L177.6 607" stroke-width="0.9"/>
<path d="M175.4 597.4 L188.7 597.4" stroke-width="1.2"/>
<rect x="188.7" y="588.1" width="7.5" height="18.6" stroke-width="1.2" fill="#fff"/>
<path d="M188.7 596.2 L196.2 602" stroke-width="1.1"/>
<path d="M196.2 591.5 L261.5 591.5 L261.5 583.3 L291.4 583.3" stroke-width="1.2"/>
<text transform="translate(209.2 611)" text-anchor="middle" style="font-size:11.5px">+</text>
<path d="M141 611.6 L149.4 611.6 L141 628 L149.4 628 Z" stroke-width="1.1" fill="#fff"/>
<path d="M145.2 608.4 L145.2 611.6" stroke-width="1.1"/>
<path d="M145.2 628 L145.2 631.2" stroke-width="1.1"/>
<path d="M143 610.2 L147.4 610.2" stroke-width="0.9"/>
<path d="M143 629.4 L147.4 629.4" stroke-width="0.9"/>
<path d="M145.2 619.8 L158.6 619.8" stroke-width="1.2"/>
<rect x="158.6" y="610.5" width="7.5" height="18.6" stroke-width="1.2" fill="#fff"/>
<path d="M158.6 618.6 L166.1 624.4" stroke-width="1.1"/>
<path d="M166.1 613.6 L269.1 613.6 L269.1 598.1 L291.4 598.1" stroke-width="1.2"/>
<path d="M166.1 625.7 L231.8 625.7 L231.8 647.7" stroke-width="1.2"/>
<path d="M171.2 633.9 L179.6 633.9 L171.2 650.3 L179.6 650.3 Z" stroke-width="1.1" fill="#fff"/>
<path d="M175.4 630.7 L175.4 633.9" stroke-width="1.1"/>
<path d="M175.4 650.3 L175.4 653.5" stroke-width="1.1"/>
<path d="M173.2 632.5 L177.6 632.5" stroke-width="0.9"/>
<path d="M173.2 651.7 L177.6 651.7" stroke-width="0.9"/>
<path d="M175.4 642.1 L188.7 642.1" stroke-width="1.2"/>
<rect x="188.7" y="632.8" width="7.5" height="18.6" stroke-width="1.2" fill="#fff"/>
<path d="M188.7 640.9 L196.2 646.7" stroke-width="1.1"/>
<path d="M196.2 636.7 L276.6 636.7 L276.6 613 L291.4 613" stroke-width="1.2"/>
<path d="M196.2 647.8 L286.6 647.8 L286.6 627.9 L291.4 627.9" stroke-width="1.2"/>
<circle cx="231.8" cy="647.7" r="2.1" fill="#000" stroke="none"/>
<text transform="translate(209.2 655.8)" text-anchor="middle" style="font-size:11.5px">+</text>
<text transform="translate(104.7 488.3)" textLength="23.5" lengthAdjust="spacingAndGlyphs">EV6</text>
<text transform="translate(104.7 510.9)" textLength="23.5" lengthAdjust="spacingAndGlyphs">EV5</text>
<text transform="translate(104.7 533)" textLength="23.5" lengthAdjust="spacingAndGlyphs">EV4</text>
<text transform="translate(104.7 580.5)" textLength="23.5" lengthAdjust="spacingAndGlyphs">EV2</text>
<text transform="translate(104.7 600.2)" textLength="22" lengthAdjust="spacingAndGlyphs">EV1</text>
<text transform="translate(104.7 622.8)" textLength="24.6" lengthAdjust="spacingAndGlyphs">EVM</text>
<text transform="translate(104.7 646.3)" textLength="31.3" lengthAdjust="spacingAndGlyphs">EVLU</text>
<text transform="translate(103.1 557.2)">3</text>
<rect x="112.3" y="674.2" width="30.1" height="30.5" stroke-width="1.2" fill="none"/>
<path d="M122.1 680.8 L122.1 692.6 L130.3 698.3 L129.7 701.2 M121.2 680.9 L127.5 680.9 M128.6 690.3 L126.3 691.6 L130.3 698" stroke-width="2" fill="none"/>
<path d="M125 680.8 L128.4 676.4 L131.9 677.4 L130.4 682 Z" fill="#000" stroke="#000" stroke-width="0.8"/>
<rect x="128.3" y="681.6" width="4" height="9.2" stroke-width="0" fill="#000"/>
<circle cx="124.8" cy="699.9" r="1.1" fill="#000" stroke="none"/>
<text transform="translate(149.1 686)" text-anchor="middle" style="font-size:11.5px">+</text>
<path d="M197.4 673.4 L291.4 673.4" stroke-width="1.2"/>
<path d="M174 673.4 L156.6 673.4 L156.6 703.9 L291.4 703.1" stroke-width="1.2"/>
<path d="M172 689 L291.4 688.3" stroke-width="1.2"/>
<rect x="174" y="669.2" width="23.4" height="10.1" stroke-width="1.1" fill="#fff"/>
<path d="M174.5 665 L196.8 683.8" stroke-width="1.1"/>
<circle cx="196.8" cy="683.8" r="1.2" fill="#000" stroke="none"/>
<path d="M205.8 679.5 L205.8 684" stroke-width="1.2"/>
<rect x="112.3" y="719.4" width="30.1" height="30.1" stroke-width="1.2" fill="none"/>
<path d="M114.5 728.2 C124.1 729 131.5 735.6 133.5 747.7" stroke-width="1.2"/>
<path d="M133.5 724 L127.7 729.8 L131.8 733.8 L137.5 728" stroke-width="1.2"/>
<path d="M129.7 731.9 L128.3 733.8" stroke-width="1.2"/>
<text transform="translate(100.2 719.6) rotate(90)" textLength="30" lengthAdjust="spacingAndGlyphs">1613</text>
<path d="M104.5 715.2 L98.7 715.2 L98.7 752.4 L104.5 752.4" stroke-width="1.2"/>
<text transform="translate(149.1 746)" text-anchor="middle" style="font-size:11.5px">+</text>
<path d="M197.4 733.6 L291.4 734" stroke-width="1.2"/>
<path d="M174 733.6 L156.6 733.6 L156.6 748.4 L291.4 748.7" stroke-width="1.2"/>
<rect x="174" y="729.8" width="23.4" height="9.4" stroke-width="1.1" fill="#fff"/>
<path d="M174.5 724 L196.8 743.7" stroke-width="1.1"/>
<circle cx="196.8" cy="743.7" r="1.2" fill="#000" stroke="none"/>
<path d="M205.8 740 L205.8 744.5" stroke-width="1.2"/>
<rect x="104.6" y="764.6" width="30.1" height="30.1" stroke-width="1.2" fill="none"/>
<path d="M110.5 768.2 L129.3 768.2" stroke-width="2"/>
<path d="M112.7 768.4 L116.7 774.8 L116.7 789.5 L121.7 789.5 L121.7 786.6 L124.9 786.6 L124.9 774.8 L128.4 768.4" stroke-width="1.7"/>
<path d="M124.9 783.6 L130.5 789.2" stroke-width="1.3"/>
<circle cx="130.8" cy="789.5" r="2" fill="#000" stroke="none"/>
<text transform="translate(108.8 771.1) rotate(90)" style="font-size:8px;font-weight:bold" textLength="18.8" lengthAdjust="spacingAndGlyphs">AUTO</text>
<text transform="translate(165.7 767.1)" textLength="31.7" lengthAdjust="spacingAndGlyphs">EPDE</text>
<path d="M162.4 775.6 L175 775.6 L162.4 798.8 L175 798.8 Z" stroke-width="1.1" fill="#fff"/>
<path d="M168.7 773.2 L168.7 775.6" stroke-width="1.1"/>
<path d="M168.7 798.8 L168.7 801.2" stroke-width="1.1"/>
<path d="M166.5 774.2 L170.9 774.2" stroke-width="0.9"/>
<path d="M166.5 800.2 L170.9 800.2" stroke-width="0.9"/>
<path d="M172.5 787.2 L182 787.2" stroke-width="1.2"/>
<rect x="186.6" y="774.1" width="10" height="25.1" stroke-width="1.2" fill="#fff"/>
<path d="M186.6 785.5 L196.6 789.6" stroke-width="1.1"/>
<path d="M196.6 779.2 L291.4 778.5" stroke-width="1.2"/>
<path d="M196.6 793.9 L291.4 793.4" stroke-width="1.2"/>
<rect x="103.2" y="860.5" width="14.9" height="30.6" stroke-width="1.2" fill="none" stroke="#777"/>
<text transform="translate(106.4 863.3) rotate(90)" textLength="25" lengthAdjust="spacingAndGlyphs">1600</text>
<path d="M164.1 900.5 L164.1 817.6 L284.3 817.6 L284.3 831.7 L291.4 831.7" stroke-width="1.2"/>
<path d="M164.1 832.1 L181.9 832.1" stroke-width="1.2"/>
<circle cx="164.1" cy="832.1" r="2.1" fill="#000" stroke="none"/>
<rect x="181.3" y="821.7" width="25.9" height="5.8" stroke-width="0" fill="#000"/>
<circle cx="184.4" cy="832.1" r="2.5" fill="#fff" stroke-width="1.2"/>
<circle cx="204.5" cy="832.1" r="2.5" fill="#fff" stroke-width="1.2"/>
<text transform="translate(141.3 830.6)" textLength="14.2" lengthAdjust="spacingAndGlyphs">S4</text>
<path d="M164.1 854.9 L181.9 854.9" stroke-width="1.2"/>
<circle cx="164.1" cy="854.9" r="2.1" fill="#000" stroke="none"/>
<rect x="181.3" y="844.5" width="25.9" height="5.8" stroke-width="0" fill="#000"/>
<circle cx="184.4" cy="854.9" r="2.5" fill="#fff" stroke-width="1.2"/>
<circle cx="204.5" cy="854.9" r="2.5" fill="#fff" stroke-width="1.2"/>
<text transform="translate(141.3 851.3)" textLength="14.2" lengthAdjust="spacingAndGlyphs">S3</text>
<path d="M164.1 877.7 L181.9 877.7" stroke-width="1.2"/>
<circle cx="164.1" cy="877.7" r="2.1" fill="#000" stroke="none"/>
<rect x="181.3" y="867.3" width="25.9" height="5.8" stroke-width="0" fill="#000"/>
<circle cx="184.4" cy="877.7" r="2.5" fill="#fff" stroke-width="1.2"/>
<circle cx="204.5" cy="877.7" r="2.5" fill="#fff" stroke-width="1.2"/>
<text transform="translate(141.3 874.1)" textLength="14.2" lengthAdjust="spacingAndGlyphs">S2</text>
<path d="M164.1 900.5 L181.9 900.5" stroke-width="1.2"/>
<rect x="181.3" y="890.1" width="25.9" height="5.8" stroke-width="0" fill="#000"/>
<circle cx="184.4" cy="900.5" r="2.5" fill="#fff" stroke-width="1.2"/>
<circle cx="204.5" cy="900.5" r="2.5" fill="#fff" stroke-width="1.2"/>
<text transform="translate(141.3 896.9)" textLength="14.2" lengthAdjust="spacingAndGlyphs">S1</text>
<path d="M207 832.1 L276.6 832.1 L276.6 846.7 L291.4 846.7" stroke-width="1.2"/>
<path d="M207 854.9 L276.6 854.9 L276.6 861.7 L291.4 861.7" stroke-width="1.2"/>
<path d="M207 877.7 L291.4 876.6" stroke-width="1.2"/>
<path d="M207 900.5 L276.6 900.5 L276.6 891.6 L291.4 891.6" stroke-width="1.2"/>
<path d="M164.1 953.3 L164.1 915.6 L275.1 915.6 L275.1 906.6 L291.4 906.6" stroke-width="1.2"/>
<rect x="181.3" y="920.1" width="25.9" height="5.8" stroke-width="0" fill="#000"/>
<circle cx="184.4" cy="930.5" r="2.5" fill="#fff" stroke-width="1.2"/>
<circle cx="204.5" cy="930.5" r="2.5" fill="#fff" stroke-width="1.2"/>
<path d="M181.9 930.5 L171.6 930.5 L171.6 945.4 L276.6 945.4 L276.6 936.6 L291.4 936.6" stroke-width="1.2"/>
<path d="M207 930.5 L276.6 930.5 L276.6 921.6 L291.4 921.6" stroke-width="1.2"/>
<text transform="translate(145.1 926.3)">R</text>
<rect x="128.9" y="942.9" width="25.5" height="5.8" stroke-width="0" fill="#000"/>
<circle cx="132.2" cy="953.3" r="2.5" fill="#fff" stroke-width="1.2"/>
<circle cx="151.7" cy="953.3" r="2.5" fill="#fff" stroke-width="1.2"/>
<path d="M154.2 953.3 L164.1 953.3 L291.4 951.5" stroke-width="1.2"/>
<circle cx="164.1" cy="953.3" r="2.1" fill="#000" stroke="none"/>
<path d="M129.7 953.3 L119.6 953.3 L119.6 983.3 L181.9 983.3" stroke-width="1.2"/>
<path d="M119.6 968.2 L291.4 966.5" stroke-width="1.2"/>
<circle cx="119.6" cy="968.2" r="2.1" fill="#000" stroke="none"/>
<text transform="translate(110.3 940.8)" textLength="22" lengthAdjust="spacingAndGlyphs">P/N</text>
<rect x="181.3" y="972.9" width="25.9" height="5.8" stroke-width="0" fill="#000"/>
<circle cx="184.4" cy="983.3" r="2.5" fill="#fff" stroke-width="1.2"/>
<circle cx="204.5" cy="983.3" r="2.5" fill="#fff" stroke-width="1.2"/>
<path d="M207 983.3 L291.4 981.5" stroke-width="1.2"/>
<path d="M239.3 953.3 L239.3 963.6" stroke-width="1.2"/>
<path d="M233.5 959.5 L238.5 961 L238.5 964.5 L235 965 Z" fill="#000" stroke="none"/>
<path d="M292 1019.7 L292 1052.7" stroke-width="2.4"/>
<path d="M281.5 1023.7 L285.1 1020.7" stroke-width="1.2"/>
<path d="M281.5 1026.8 L288.7 1020.7" stroke-width="1.2"/>
<path d="M281.5 1029.8 L291.5 1021.4" stroke-width="1.2"/>
<path d="M281.5 1032.8 L291.5 1024.4" stroke-width="1.2"/>
<path d="M281.5 1035.9 L291.5 1027.5" stroke-width="1.2"/>
<path d="M281.5 1038.9 L291.5 1030.5" stroke-width="1.2"/>
<path d="M281.5 1042 L291.5 1033.6" stroke-width="1.2"/>
<path d="M281.5 1045 L291.5 1036.6" stroke-width="1.2"/>
<path d="M281.5 1048.1 L291.5 1039.7" stroke-width="1.2"/>
<path d="M281.5 1051.1 L291.5 1042.7" stroke-width="1.2"/>
<path d="M284.5 1051.7 L291.5 1045.8" stroke-width="1.2"/>
<path d="M288.1 1051.7 L291.5 1048.8" stroke-width="1.2"/>
<circle cx="296.2" cy="1035.3" r="3.3" fill="#fff" stroke-width="1.2"/>
<text transform="translate(264.3 1019.3) rotate(90)" style="font-size:13.5px" textLength="32" lengthAdjust="spacingAndGlyphs">MC16</text>
<text transform="translate(298 1033)" textLength="27" lengthAdjust="spacingAndGlyphs">ME16</text>
<rect x="433.2" y="966.5" width="120.3" height="91.1" stroke-width="1.4" fill="none" stroke-dasharray="10 6.3"/>
<rect x="500" y="981.4" width="30.5" height="30.4" stroke-width="1.2" fill="none"/>
<path d="M502.2 995 C504 978 527.5 978 529.2 995 C524 1001.5 507.5 1001.5 502.2 995 Z" stroke-width="1.8" fill="#fff"/>
<text transform="translate(510.8 992.3) rotate(90)" text-anchor="middle">R</text>
<path d="M510.3 1003 L505.4 1008.9" stroke-width="1.8"/>
<path d="M515.1 1003 L515.1 1011.8" stroke-width="2"/>
<text transform="translate(511.1 1019.2) rotate(90)" textLength="14.4" lengthAdjust="spacingAndGlyphs">22</text>
<text transform="translate(511.1 1035.8) rotate(90)" textLength="14.6" lengthAdjust="spacingAndGlyphs">--</text>
<text transform="translate(448.1 1008.9)" textLength="19.6" lengthAdjust="spacingAndGlyphs">220</text>
<rect x="867.4" y="679.3" width="82" height="143" stroke-width="1.4" fill="none" stroke-dasharray="10.5 4.4"/>
<rect x="897.4" y="686.6" width="30.5" height="30.7" stroke-width="1.2" fill="none"/>
<path d="M899.5 702 L906 702" stroke-width="1.2"/>
<rect x="906" y="700.3" width="5" height="3.4" stroke-width="1.2" fill="#fff"/>
<path d="M911 699 L914.5 697.2 L914.5 706.8 L911 705 Z" stroke-width="1.1" fill="#fff"/>
<rect x="914.5" y="696" width="5" height="12" stroke-width="1.3" fill="#fff"/>
<path d="M916 696 L916 708" stroke-width="0.9"/>
<path d="M918 696 L918 708" stroke-width="0.9"/>
<path d="M919.5 698.5 L924.5 698.5 L924.5 702 L922 702 M919.5 705.5 L922.5 705.5 L924.5 703.8 L922 702" stroke-width="1.1"/>
<text transform="translate(877.9 688.2) rotate(90)" textLength="14.4" lengthAdjust="spacingAndGlyphs">12</text>
<text transform="translate(877.9 704.8) rotate(90)" textLength="14.6" lengthAdjust="spacingAndGlyphs">--</text>
<text transform="translate(906.6 751.9) rotate(90)" textLength="26" lengthAdjust="spacingAndGlyphs">6751</text>
<text transform="translate(936.6 759.1) rotate(90)" textLength="19.7" lengthAdjust="spacingAndGlyphs">426</text>
<rect x="822.3" y="837.4" width="59.6" height="45.5" stroke-width="3.2" fill="#fff"/>
<path d="M831.1 849.3 L843.5 849.3 L831.1 871.5 L843.5 871.5 Z" stroke-width="1.1" fill="#fff"/>
<path d="M837.3 845.8 L837.3 849.3" stroke-width="1.1"/>
<path d="M837.3 871.5 L837.3 875" stroke-width="1.1"/>
<path d="M835.1 847.9 L839.5 847.9" stroke-width="0.9"/>
<path d="M835.1 872.9 L839.5 872.9" stroke-width="0.9"/>
<path d="M841 860.4 L850.8 860.4" stroke-width="1.2"/>
<rect x="854.3" y="847.8" width="10.4" height="25.3" stroke-width="1.2" fill="#fff"/>
<path d="M854.3 866.5 L864.7 855" stroke-width="1.1"/>
<path d="M864.7 852.6 L883.5 852.6" stroke-width="1.2"/>
<path d="M864.7 868 L883.5 868" stroke-width="1.2"/>
<rect x="883.5" y="845.1" width="13.9" height="14.8" stroke-width="1.2" fill="#fff"/>
<rect x="883.5" y="859.9" width="13.9" height="15.3" stroke-width="1.2" fill="#fff"/>
<text transform="translate(886.2 852.5) rotate(90)" text-anchor="middle">1</text>
<text transform="translate(886.2 867.5) rotate(90)" text-anchor="middle">2</text>
<text transform="translate(901.6 850.3)" textLength="26.9" lengthAdjust="spacingAndGlyphs">C12F</text>
<text transform="translate(901.6 865.9)" textLength="26.5" lengthAdjust="spacingAndGlyphs">6772</text>
<text transform="translate(896.4 891.8)" textLength="13.4" lengthAdjust="spacingAndGlyphs">2V</text>
<text transform="translate(920.2 891.8)" textLength="12" lengthAdjust="spacingAndGlyphs">VE</text>
<text transform="translate(805 847.2) rotate(90)" textLength="24.3" lengthAdjust="spacingAndGlyphs">1631</text>
<rect x="899.7" y="960.5" width="42.5" height="101.8" stroke-width="3" fill="#fff"/>
<path d="M917.6 966.5 L927.2 971.1 L917.6 975.6 Z" fill="#000" stroke="none"/>
<path d="M928 966.3 L928 975.8" stroke-width="1.8"/>
<path d="M917.6 971.1 L907 971.1 L907 995.7 L920.1 995.7" stroke-width="1.2"/>
<path d="M928.8 971.1 L937.1 971.1 L937.1 980.8" stroke-width="1.2"/>
<path d="M942.7 980.8 L937.1 980.8 L937.1 983.3 L927.4 983.3" stroke-width="1.2"/>
<circle cx="937.1" cy="980.8" r="1.7" fill="#000" stroke="none"/>
<rect x="920.1" y="980.8" width="7.3" height="17.9" stroke-width="1.2" fill="#fff"/>
<path d="M920.3 998.6 L928.1 981.2" stroke-width="1.1"/>
<circle cx="914.8" cy="995.5" r="1.6" fill="#000" stroke="none"/>
<path d="M914.8 995.6 L914.8 1003 L934.7 1003 L934.7 996.3 L942.7 996.3" stroke-width="1.5"/>
<path d="M923.5 998.9 L923.5 1028.1" stroke-width="1.2" stroke-dasharray="3 2"/>
<path d="M932.3 1016.6 L937.1 1016.6 L937.1 1011.3 L942.7 1011.3" stroke-width="1.2"/>
<circle cx="929.8" cy="1016.6" r="2.5" fill="#fff" stroke-width="1.2"/>
<path d="M909.8 1026.3 L904.6 1026.3 L904.6 1049 L937.1 1049 L937.1 1041.9 L942.7 1041.9" stroke-width="1.2"/>
<path d="M932.3 1037.3 L937.1 1037.3 L937.1 1027.3 L942.7 1027.3" stroke-width="1.2"/>
<path d="M913.3 1026.8 L932 1034.2" stroke-width="3"/>
<circle cx="912.2" cy="1026.3" r="2.5" fill="#fff" stroke-width="1.2"/>
<circle cx="929.8" cy="1037.3" r="2.5" fill="#fff" stroke-width="1.2"/>
<rect x="943.6" y="973.2" width="13.4" height="15" stroke-width="1.2" fill="#fff"/>
<rect x="943.6" y="988.2" width="13.4" height="15.4" stroke-width="1.2" fill="#fff"/>
<rect x="943.6" y="1003.6" width="13.4" height="15.6" stroke-width="1.2" fill="#fff"/>
<rect x="943.6" y="1019.2" width="13.4" height="15" stroke-width="1.2" fill="#fff"/>
<rect x="943.6" y="1034.2" width="13.4" height="15.2" stroke-width="1.2" fill="#fff"/>
<text transform="translate(946 980.7) rotate(90)" text-anchor="middle">1</text>
<text transform="translate(946 995.9) rotate(90)" text-anchor="middle">2</text>
<text transform="translate(946 1011.4) rotate(90)" text-anchor="middle">5</text>
<text transform="translate(946 1041.8) rotate(90)" text-anchor="middle">3</text>
<text transform="translate(961.2 979.7)" textLength="26.8" lengthAdjust="spacingAndGlyphs">CC2C</text>
<text transform="translate(961.2 994.6)" textLength="25.5" lengthAdjust="spacingAndGlyphs">1650</text>
<text transform="translate(961.2 1009.5)" textLength="25.5" lengthAdjust="spacingAndGlyphs">1010</text>
<text transform="translate(961.2 1039.9)" textLength="33.5" lengthAdjust="spacingAndGlyphs">1010A</text>
<text transform="translate(956.4 1064.8)" textLength="13.4" lengthAdjust="spacingAndGlyphs">5V</text>
<text transform="translate(978.2 1064.8)" textLength="13.4" lengthAdjust="spacingAndGlyphs">MR</text>
<text transform="translate(880.3 998.3) rotate(90)" textLength="26.4" lengthAdjust="spacingAndGlyphs">1005</text>
<rect x="1075.8" y="988.7" width="120.7" height="83.2" stroke-width="1.4" fill="none" stroke-dasharray="10.5 6"/>
<rect x="1158.3" y="1033.9" width="30.2" height="30.2" stroke-width="1.2" fill="none"/>
<rect x="1168.7" y="1038.7" width="6.9" height="13.3" stroke-width="1.3" fill="#fff"/>
<path d="M1168.7 1039.5 L1175.6 1039.5" stroke-width="2"/>
<path d="M1175.6 1042.5 L1182 1042.5 L1182 1052" stroke-width="1.3"/>
<rect x="1167" y="1051.6" width="14.5" height="4.2" rx="1.8" stroke-width="1.3" fill="#fff"/>
<path d="M1170.8 1055.8 L1170.8 1061 Q1172.7 1063.5 1174.6 1061 L1174.6 1055.8" stroke-width="1.2" fill="#fff"/>
<text transform="translate(1161.4 1001.2) rotate(90)" textLength="14.4" lengthAdjust="spacingAndGlyphs">10</text>
<text transform="translate(1161.4 1017.8) rotate(90)" textLength="14.6" lengthAdjust="spacingAndGlyphs">--</text>
<text transform="translate(1092.1 1038.7)" textLength="32.7" lengthAdjust="spacingAndGlyphs">1010A</text>
<rect x="1330.6" y="747.5" width="127" height="247.5" stroke-width="3.2" fill="#fff"/>
<text transform="translate(1312.3 749) rotate(90)" textLength="26" lengthAdjust="spacingAndGlyphs">0004</text>
<rect x="1315.7" y="807.7" width="13.8" height="15" stroke-width="1.2" fill="#fff"/>
<text transform="translate(1318.2 815.2) rotate(90)" text-anchor="middle" textLength="12.6" lengthAdjust="spacingAndGlyphs">14</text>
<rect x="1315.7" y="822.7" width="13.8" height="14.8" stroke-width="1.2" fill="#fff"/>
<text transform="translate(1318.2 830.1) rotate(90)" text-anchor="middle" textLength="12.6" lengthAdjust="spacingAndGlyphs">15</text>
<rect x="1315.7" y="837.5" width="13.8" height="15.2" stroke-width="1.2" fill="#fff"/>
<text transform="translate(1318.2 845.1) rotate(90)" text-anchor="middle" textLength="12.6" lengthAdjust="spacingAndGlyphs">13</text>
<rect x="1315.7" y="852.7" width="13.8" height="15" stroke-width="1.2" fill="#fff"/>
<text transform="translate(1318.2 860.2) rotate(90)" text-anchor="middle" textLength="12.6" lengthAdjust="spacingAndGlyphs">21</text>
<rect x="1315.7" y="867.7" width="13.8" height="15" stroke-width="1.2" fill="#fff"/>
<text transform="translate(1318.2 875.2) rotate(90)" text-anchor="middle">2</text>
<rect x="1315.7" y="913.3" width="13.8" height="14.7" stroke-width="1.2" fill="#fff"/>
<text transform="translate(1318.2 920.6) rotate(90)" text-anchor="middle">6</text>
<rect x="1315.7" y="928" width="13.8" height="15.3" stroke-width="1.2" fill="#fff"/>
<text transform="translate(1318.2 935.6) rotate(90)" text-anchor="middle" textLength="12.6" lengthAdjust="spacingAndGlyphs">18</text>
<rect x="1315.7" y="943.3" width="13.8" height="14.7" stroke-width="1.2" fill="#fff"/>
<text transform="translate(1318.2 950.6) rotate(90)" text-anchor="middle">5</text>
<rect x="1315.7" y="958" width="13.8" height="16" stroke-width="1.2" fill="#fff"/>
<text transform="translate(1318.2 966) rotate(90)" text-anchor="middle" textLength="12.6" lengthAdjust="spacingAndGlyphs">10</text>
<text transform="translate(1280.7 800.3)" textLength="19.3" lengthAdjust="spacingAndGlyphs">26V</text>
<text transform="translate(1309.5 800.3)" textLength="13" lengthAdjust="spacingAndGlyphs">BE</text>
<text transform="translate(1280.7 906)" textLength="19.3" lengthAdjust="spacingAndGlyphs">26V</text>
<text transform="translate(1309.5 906)" textLength="12" lengthAdjust="spacingAndGlyphs">JN</text>
<text transform="translate(1310.5 813)" text-anchor="end" textLength="33.5" lengthAdjust="spacingAndGlyphs">M004D</text>
<text transform="translate(1310.5 827.7)" text-anchor="end" textLength="20.1" lengthAdjust="spacingAndGlyphs">463</text>
<text transform="translate(1310.5 842.7)" text-anchor="end" textLength="26.8" lengthAdjust="spacingAndGlyphs">C12C</text>
<text transform="translate(1310.5 858)" text-anchor="end" textLength="33.5" lengthAdjust="spacingAndGlyphs">M004F</text>
<text transform="translate(1310.5 872)" text-anchor="end" textLength="20.1" lengthAdjust="spacingAndGlyphs">426</text>
<text transform="translate(1310.5 918.3)" text-anchor="end" textLength="26.8" lengthAdjust="spacingAndGlyphs">B25A</text>
<text transform="translate(1310.5 933.7)" text-anchor="end" textLength="26.8" lengthAdjust="spacingAndGlyphs">4618</text>
<text transform="translate(1310.5 948.7)" text-anchor="end" textLength="26.8" lengthAdjust="spacingAndGlyphs">C12B</text>
<text transform="translate(1310.5 964)" text-anchor="end" textLength="26.8" lengthAdjust="spacingAndGlyphs">C12A</text>
<rect x="1382.5" y="762" width="46.3" height="75.3" stroke-width="1.2" fill="none"/>
<rect x="1390" y="769.3" width="30.7" height="29.7" stroke-width="1.2" fill="none"/>
<path d="M1392.3 772.9 L1398.5 772.9 L1398.5 777.1 L1405.3 777.1 L1405.3 780.4 L1412.1 780.4 L1412.1 784 L1419 784" stroke-width="1.2"/>
<text transform="translate(1412.5 791.4) rotate(90)" text-anchor="middle" style="font-size:9.2px">P</text>
<text transform="translate(1406 791.4) rotate(90)" text-anchor="middle" style="font-size:9.2px">R</text>
<text transform="translate(1399.4 791.4) rotate(90)" text-anchor="middle" style="font-size:9.2px">N</text>
<text transform="translate(1392.9 791.4) rotate(90)" text-anchor="middle" style="font-size:9.2px">D</text>
<rect x="1390" y="800.7" width="30.7" height="30" stroke-width="1.2" fill="none"/>
<path d="M1396 804.3 L1415.2 804.3" stroke-width="2"/>
<path d="M1398.3 804.5 L1402.4 810.9 L1402.4 825.5 L1407.4 825.5 L1407.4 822.6 L1410.7 822.6 L1410.7 810.9 L1414.3 804.5" stroke-width="1.7"/>
<path d="M1410.7 819.6 L1416.4 825.2" stroke-width="1.3"/>
<circle cx="1416.7" cy="825.5" r="2" fill="#000" stroke="none"/>
<text transform="translate(1394.3 807.2) rotate(90)" style="font-size:8px;font-weight:bold" textLength="18.7" lengthAdjust="spacingAndGlyphs">AUTO</text>
<path d="M1332 815.4 L1382.5 815.4" stroke-width="1.2"/>
<path d="M1332 830.2 L1382.5 830.2" stroke-width="1.2"/>
<path d="M1428.8 815.4 L1449.9 815.4 L1449.9 980.7 L1344.9 980.7 L1344.9 966 L1332 966" stroke-width="1.2"/>
<path d="M1332 845 L1449.9 845" stroke-width="1.2"/>
<circle cx="1449.9" cy="845" r="2.1" fill="#000" stroke="none"/>
<circle cx="1449.9" cy="912.8" r="2.1" fill="#000" stroke="none"/>
<path d="M1332 860.2 L1442.8 860.2 L1442.8 898.1 L1435.1 898.1" stroke-width="1.2"/>
<path d="M1332 875.5 L1374.7 875.5 L1374.7 889.9" stroke-width="1.2"/>
<rect x="1352.4" y="889.9" width="45.2" height="76.1" stroke-width="1.2" fill="none"/>
<rect x="1359.7" y="897.7" width="30.3" height="29.6" stroke-width="1.2" fill="none"/>
<rect x="1362.2" y="905.1" width="25.7" height="14.5" stroke-width="1.3" fill="none"/>
<path d="M1387.8 910.2 A2 2 0 0 0 1387.8 914.4" stroke-width="1.1"/>
<path d="M1365 900.5 L1365 905.1" stroke-width="1.2"/>
<path d="M1365 919.6 L1365 924.6" stroke-width="1.2"/>
<path d="M1370.5 900.5 L1370.5 905.1" stroke-width="1.2"/>
<path d="M1370.5 919.6 L1370.5 924.6" stroke-width="1.2"/>
<path d="M1375.9 900.5 L1375.9 905.1" stroke-width="1.2"/>
<path d="M1375.9 919.6 L1375.9 924.6" stroke-width="1.2"/>
<path d="M1381.2 900.5 L1381.2 905.1" stroke-width="1.2"/>
<path d="M1381.2 919.6 L1381.2 924.6" stroke-width="1.2"/>
<path d="M1386.3 900.5 L1386.3 905.1" stroke-width="1.2"/>
<path d="M1386.3 919.6 L1386.3 924.6" stroke-width="1.2"/>
<rect x="1359.7" y="928.7" width="30.3" height="29.6" stroke-width="1.2" fill="none"/>
<path d="M1365.5 931.5 L1382 931.5 Q1388 932 1388 941 L1388 949 Q1388 955.5 1381 955.8 L1365.5 955.8" stroke-width="1.1"/>
<path d="M1365.5 930 L1365.5 957" stroke-width="1.1"/>
<rect x="1361.3" y="931.5" width="3" height="3" stroke-width="0.9" fill="#fff"/>
<rect x="1361.3" y="936.5" width="3" height="3" stroke-width="0.9" fill="#fff"/>
<rect x="1361.3" y="941.5" width="3" height="3" stroke-width="0.9" fill="#fff"/>
<rect x="1361.3" y="946.5" width="3" height="3" stroke-width="0.9" fill="#fff"/>
<rect x="1361.3" y="951.5" width="3" height="3" stroke-width="0.9" fill="#fff"/>
<circle cx="1378.5" cy="944.5" r="4.4" fill="#fff" stroke-width="1.1"/>
<path d="M1378.5 944.5 L1381.2 941.2" stroke-width="1.1"/>
<circle cx="1371.5" cy="936" r="1.5" fill="#fff" stroke-width="1.2"/>
<circle cx="1371.5" cy="952.5" r="1.5" fill="#fff" stroke-width="1.2"/>
<rect x="1404.7" y="889.9" width="30.4" height="30.4" stroke-width="1.2" fill="none"/>
<path d="M1397.6 905.6 L1405.5 905.6" stroke-width="1.2"/>
<path d="M1405.5 905.6 L1420 892.2" stroke-width="1.2"/>
<text transform="translate(1425.5 892.5) rotate(90)" style="font-size:10.5px" textLength="26" lengthAdjust="spacingAndGlyphs">tr/mn</text>
<path d="M1435.1 912.8 L1449.9 912.8" stroke-width="1.2"/>
<path d="M1332 920.8 L1352.4 920.8" stroke-width="1.2"/>
<path d="M1332 936.1 L1352.4 936.1" stroke-width="1.2"/>
<path d="M1332 951.3 L1352.4 951.3" stroke-width="1.2"/>
</svg>
</body></html>
